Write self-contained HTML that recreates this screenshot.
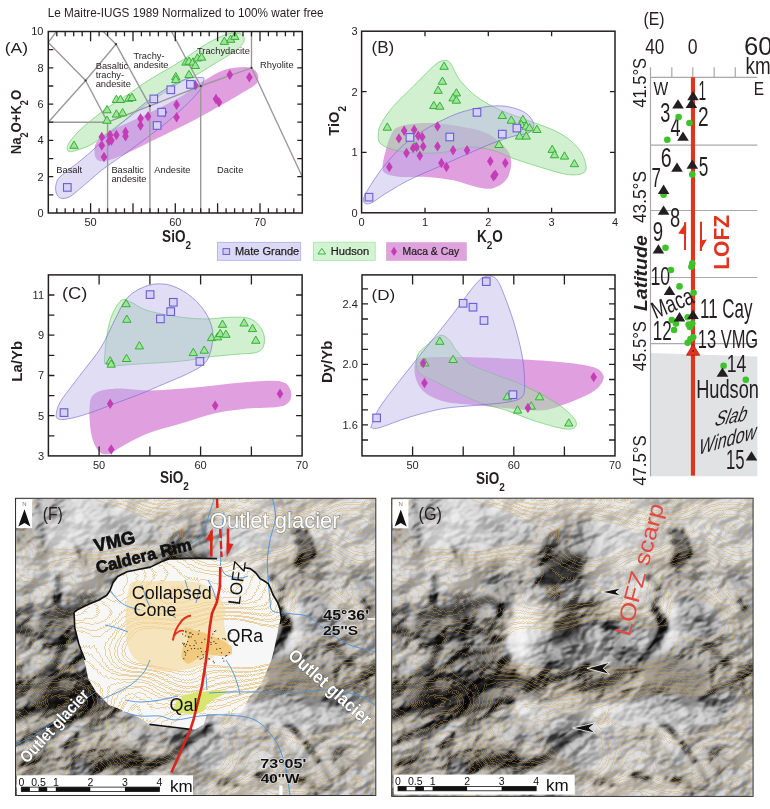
<!DOCTYPE html><html><head><meta charset="utf-8"><style>html,body{margin:0;padding:0;background:#fff;width:770px;height:809px;overflow:hidden}svg{display:block}text{font-family:"Liberation Sans",sans-serif}</style></head><body>
<svg width="770" height="809" viewBox="0 0 770 809">
<rect width="770" height="809" fill="#fff"/>
<text transform="translate(47.66,17.38) scale(0.972,1)" font-size="12.11" font-weight="normal" font-style="normal" fill="#231f20" >Le Maitre-IUGS 1989 Normalized to 100% water free</text>
<defs><clipPath id="cpA"><rect x="48.3" y="31.5" width="254.0" height="181.5"/></clipPath></defs>
<g clip-path="url(#cpA)">
<path d="M94.5,151.3 C94.5,148.0 94.5,144.1 97.9,140.4 C101.2,136.7 106.2,133.5 114.5,129.1 C122.8,124.6 136.7,119.2 147.7,113.8 C158.8,108.3 171.6,102.0 181.0,96.5 C190.4,90.9 197.0,85.0 204.2,80.5 C211.5,76.1 217.0,72.1 224.2,69.9 C231.4,67.7 242.0,66.8 247.5,67.2 C252.9,67.7 255.2,69.9 256.8,72.6 C258.3,75.2 259.4,79.6 256.8,83.2 C254.1,86.7 247.9,89.5 240.8,93.8 C233.7,98.2 222.1,104.7 214.2,109.1 C206.4,113.6 200.5,116.8 193.6,120.4 C186.7,124.0 179.6,127.3 172.7,130.7 C165.7,134.2 158.6,137.6 151.7,141.0 C144.8,144.5 138.0,148.2 131.1,151.3 C124.2,154.4 115.7,158.2 110.2,159.7 C104.6,161.2 100.5,161.7 97.9,160.3 C95.3,158.9 94.5,154.7 94.5,151.3Z" fill="#ba2cba" fill-opacity="0.45" stroke="none"/>
<path d="M67.6,150.3 C66.9,149.0 67.0,146.3 68.9,143.0 C70.9,139.8 75.1,134.9 79.2,130.7 C83.4,126.6 88.7,122.3 93.9,118.1 C99.0,113.9 104.6,109.6 110.2,105.8 C115.7,102.0 121.9,98.7 127.1,95.2 C132.3,91.7 136.3,88.3 141.4,84.9 C146.6,81.4 152.8,77.7 158.0,74.5 C163.2,71.4 167.7,69.2 172.7,66.2 C177.6,63.2 181.8,60.4 187.6,56.6 C193.4,52.8 200.9,47.1 207.6,43.3 C214.2,39.5 222.0,35.5 227.5,34.0 C233.1,32.4 238.0,32.9 240.8,34.0 C243.6,35.1 245.0,37.9 244.1,40.6 C243.3,43.4 240.8,46.7 235.8,50.6 C230.8,54.5 221.3,59.6 214.2,63.9 C207.2,68.2 198.8,73.7 193.6,76.5 C188.4,79.4 186.5,79.1 183.0,80.9 C179.5,82.6 176.4,84.8 172.7,87.2 C168.9,89.6 164.9,92.2 160.4,95.2 C155.9,98.1 150.6,101.3 145.7,104.8 C140.9,108.3 136.0,112.5 131.1,116.1 C126.2,119.7 121.4,122.9 116.5,126.4 C111.6,129.9 106.3,133.9 101.9,137.0 C97.4,140.2 94.4,143.0 89.6,145.4 C84.7,147.7 76.6,150.5 72.9,151.3 C69.3,152.2 68.3,151.7 67.6,150.3Z" fill="#a1e1a1" fill-opacity="0.5" stroke="#5cc45c" stroke-width="0.6"/>
<path d="M56.0,184.6 C56.7,181.8 56.8,180.1 60.6,176.3 C64.5,172.5 73.4,166.5 79.2,161.6 C85.1,156.8 90.7,152.2 95.9,147.4 C101.0,142.5 105.3,137.2 110.2,132.7 C115.0,128.2 119.6,124.9 124.8,120.4 C130.0,115.9 136.2,110.0 141.4,105.8 C146.6,101.6 150.8,98.7 156.0,95.2 C161.3,91.7 167.1,87.7 172.7,84.9 C178.2,82.0 184.8,79.1 189.3,77.9 C193.8,76.7 197.2,77.5 199.6,77.5 C202.0,77.5 203.4,77.0 203.9,77.9 C204.5,78.8 203.3,81.3 202.9,82.9 C202.6,84.4 203.5,84.7 201.9,87.2 C200.4,89.6 197.1,93.7 193.6,97.5 C190.1,101.3 185.9,105.3 181.0,109.8 C176.1,114.3 169.9,119.9 164.4,124.4 C158.8,129.0 153.3,132.9 147.7,137.0 C142.2,141.2 136.3,145.6 131.1,149.3 C125.9,153.1 121.4,156.2 116.5,159.7 C111.6,163.1 106.3,166.5 101.9,170.0 C97.4,173.5 93.7,177.1 89.6,180.6 C85.5,184.1 80.7,188.1 77.3,190.9 C73.8,193.7 71.7,196.0 68.9,197.2 C66.2,198.4 62.7,198.9 60.6,198.2 C58.5,197.5 57.1,195.2 56.3,192.9 C55.5,190.6 55.3,187.4 56.0,184.6Z" fill="#b5aee7" fill-opacity="0.42" stroke="#6f63cc" stroke-width="0.6"/>
</g>
<g fill="none" stroke="#9a9a9a" stroke-width="1.4" stroke-linejoin="round">
<polyline points="48.3,122.2 107.6,122.2"/>
<polyline points="107.6,213.0 107.6,122.2"/>
<polyline points="149.9,213.0 149.9,105.9"/>
<polyline points="200.7,213.0 200.7,86.0"/>
<polyline points="251.5,67.8 302.3,176.7"/>
<polyline points="107.6,122.2 149.9,105.9 200.7,86.0 251.5,67.8 251.5,31.5"/>
<polyline points="48.3,122.2 85.6,80.5 116.0,44.2 103.3,31.5"/>
<polyline points="48.3,42.4 85.6,80.5 107.6,122.2"/>
<polyline points="116.0,44.2 149.9,105.9"/>
<polyline points="171.5,31.5 200.7,86.0"/>
<polyline points="48.3,42.4 56.5,31.5"/>
</g>
<circle cx="85.6" cy="80.5" r="1.1" fill="#333"/>
<circle cx="116.0" cy="44.2" r="1.1" fill="#333"/>
<circle cx="149.9" cy="105.9" r="1.1" fill="#333"/>
<circle cx="200.7" cy="86.0" r="1.1" fill="#333"/>
<circle cx="251.5" cy="67.8" r="1.1" fill="#333"/>
<path d="M74.0,141.0L78.2,148.3L69.8,148.3Z" fill="#9ee49a" stroke="#36b036" stroke-width="1"/>
<path d="M107.0,105.5L111.2,112.8L102.8,112.8Z" fill="#9ee49a" stroke="#36b036" stroke-width="1"/>
<path d="M107.0,116.0L111.2,123.3L102.8,123.3Z" fill="#9ee49a" stroke="#36b036" stroke-width="1"/>
<path d="M116.4,95.2L120.6,102.5L112.2,102.5Z" fill="#9ee49a" stroke="#36b036" stroke-width="1"/>
<path d="M120.5,95.2L124.7,102.5L116.3,102.5Z" fill="#9ee49a" stroke="#36b036" stroke-width="1"/>
<path d="M128.8,94.0L133.0,101.3L124.6,101.3Z" fill="#9ee49a" stroke="#36b036" stroke-width="1"/>
<path d="M132.0,93.2L136.2,100.5L127.8,100.5Z" fill="#9ee49a" stroke="#36b036" stroke-width="1"/>
<path d="M116.4,109.8L120.6,117.1L112.2,117.1Z" fill="#9ee49a" stroke="#36b036" stroke-width="1"/>
<path d="M122.6,108.5L126.8,115.8L118.4,115.8Z" fill="#9ee49a" stroke="#36b036" stroke-width="1"/>
<path d="M175.8,72.4L180.0,79.7L171.6,79.7Z" fill="#9ee49a" stroke="#36b036" stroke-width="1"/>
<path d="M175.8,75.3L180.0,82.6L171.6,82.6Z" fill="#9ee49a" stroke="#36b036" stroke-width="1"/>
<path d="M186.0,57.8L190.2,65.1L181.8,65.1Z" fill="#9ee49a" stroke="#36b036" stroke-width="1"/>
<path d="M189.0,57.0L193.2,64.3L184.8,64.3Z" fill="#9ee49a" stroke="#36b036" stroke-width="1"/>
<path d="M193.0,57.8L197.2,65.1L188.8,65.1Z" fill="#9ee49a" stroke="#36b036" stroke-width="1"/>
<path d="M197.4,53.7L201.6,61.0L193.2,61.0Z" fill="#9ee49a" stroke="#36b036" stroke-width="1"/>
<path d="M201.6,52.9L205.8,60.2L197.4,60.2Z" fill="#9ee49a" stroke="#36b036" stroke-width="1"/>
<path d="M195.3,61.2L199.5,68.5L191.1,68.5Z" fill="#9ee49a" stroke="#36b036" stroke-width="1"/>
<path d="M189.0,70.3L193.2,77.6L184.8,77.6Z" fill="#9ee49a" stroke="#36b036" stroke-width="1"/>
<path d="M224.4,37.1L228.6,44.4L220.2,44.4Z" fill="#9ee49a" stroke="#36b036" stroke-width="1"/>
<path d="M230.7,35.0L234.9,42.3L226.5,42.3Z" fill="#9ee49a" stroke="#36b036" stroke-width="1"/>
<path d="M234.8,32.1L239.0,39.4L230.6,39.4Z" fill="#9ee49a" stroke="#36b036" stroke-width="1"/>
<path d="M101.8,131.8L105.1,137.0L101.8,142.2L98.5,137.0Z" fill="#c43cb6"/>
<path d="M101.8,140.3L105.1,145.5L101.8,150.7L98.5,145.5Z" fill="#c43cb6"/>
<path d="M104.0,151.8L107.3,157.0L104.0,162.2L100.7,157.0Z" fill="#c43cb6"/>
<path d="M110.0,129.8L113.3,135.0L110.0,140.2L106.7,135.0Z" fill="#c43cb6"/>
<path d="M109.0,135.8L112.3,141.0L109.0,146.2L105.7,141.0Z" fill="#c43cb6"/>
<path d="M111.4,135.3L114.7,140.5L111.4,145.7L108.1,140.5Z" fill="#c43cb6"/>
<path d="M116.4,129.8L119.7,135.0L116.4,140.2L113.1,135.0Z" fill="#c43cb6"/>
<path d="M125.5,126.8L128.8,132.0L125.5,137.2L122.2,132.0Z" fill="#c43cb6"/>
<path d="M125.5,131.1L128.8,136.3L125.5,141.5L122.2,136.3Z" fill="#c43cb6"/>
<path d="M140.5,113.3L143.8,118.5L140.5,123.7L137.2,118.5Z" fill="#c43cb6"/>
<path d="M140.5,120.3L143.8,125.5L140.5,130.7L137.2,125.5Z" fill="#c43cb6"/>
<path d="M148.0,111.2L151.3,116.4L148.0,121.6L144.7,116.4Z" fill="#c43cb6"/>
<path d="M164.0,107.0L167.3,112.2L164.0,117.4L160.7,112.2Z" fill="#c43cb6"/>
<path d="M176.6,99.5L179.9,104.7L176.6,109.9L173.3,104.7Z" fill="#c43cb6"/>
<path d="M176.6,112.0L179.9,117.2L176.6,122.4L173.3,117.2Z" fill="#c43cb6"/>
<path d="M195.3,80.0L198.6,85.2L195.3,90.4L192.0,85.2Z" fill="#c43cb6"/>
<path d="M216.0,93.8L219.3,99.0L216.0,104.2L212.7,99.0Z" fill="#c43cb6"/>
<path d="M219.0,97.0L222.3,102.2L219.0,107.4L215.7,102.2Z" fill="#c43cb6"/>
<path d="M229.8,69.6L233.1,74.8L229.8,80.0L226.5,74.8Z" fill="#c43cb6"/>
<path d="M249.4,72.1L252.7,77.3L249.4,82.5L246.1,77.3Z" fill="#c43cb6"/>
<rect x="63.5" y="183.6" width="7.6" height="7.6" fill="#d6d2f6" stroke="#6a5cd0" stroke-width="1.1"/>
<rect x="150.0" y="95.1" width="7.6" height="7.6" fill="#d6d2f6" stroke="#6a5cd0" stroke-width="1.1"/>
<rect x="167.0" y="86.0" width="7.6" height="7.6" fill="#d6d2f6" stroke="#6a5cd0" stroke-width="1.1"/>
<rect x="186.6" y="80.6" width="7.6" height="7.6" fill="#d6d2f6" stroke="#6a5cd0" stroke-width="1.1"/>
<rect x="157.9" y="108.4" width="7.6" height="7.6" fill="#d6d2f6" stroke="#6a5cd0" stroke-width="1.1"/>
<rect x="153.3" y="121.7" width="7.6" height="7.6" fill="#d6d2f6" stroke="#6a5cd0" stroke-width="1.1"/>
<text x="56.3" y="172.8" font-size="9.3" text-anchor="start" font-weight="normal" fill="#231f20" >Basalt</text>
<text x="111.4" y="172.8" font-size="9.3" text-anchor="start" font-weight="normal" fill="#231f20" >Basaltic</text>
<text x="111.4" y="182.0" font-size="9.3" text-anchor="start" font-weight="normal" fill="#231f20" >andesite</text>
<text x="154.3" y="172.8" font-size="9.3" text-anchor="start" font-weight="normal" fill="#231f20" >Andesite</text>
<text x="217.0" y="172.8" font-size="9.3" text-anchor="start" font-weight="normal" fill="#231f20" >Dacite</text>
<text x="95.7" y="68.8" font-size="9.3" text-anchor="start" font-weight="normal" fill="#231f20" >Basaltic</text>
<text x="95.7" y="77.8" font-size="9.3" text-anchor="start" font-weight="normal" fill="#231f20" >trachy-</text>
<text x="95.7" y="87.0" font-size="9.3" text-anchor="start" font-weight="normal" fill="#231f20" >andesite</text>
<text x="133.4" y="58.6" font-size="9.3" text-anchor="start" font-weight="normal" fill="#231f20" >Trachy-</text>
<text x="133.4" y="68.4" font-size="9.3" text-anchor="start" font-weight="normal" fill="#231f20" >andesite</text>
<text x="197.0" y="53.6" font-size="9.3" text-anchor="start" font-weight="normal" fill="#231f20" >Trachydacite</text>
<text x="260.0" y="67.8" font-size="9.3" text-anchor="start" font-weight="normal" fill="#231f20" >Rhyolite</text>
<rect x="48.3" y="31.5" width="254.0" height="181.5" fill="none" stroke="#231f20" stroke-width="1.5"/>
<path d="M56.8,213.0v-4.7M56.8,31.5v4.7M65.2,213.0v-4.7M65.2,31.5v4.7M73.7,213.0v-4.7M73.7,31.5v4.7M82.2,213.0v-4.7M82.2,31.5v4.7M90.6,213.0v-9.7M90.6,31.5v9.7M99.1,213.0v-4.7M99.1,31.5v4.7M107.6,213.0v-4.7M107.6,31.5v4.7M116.0,213.0v-4.7M116.0,31.5v4.7M124.5,213.0v-4.7M124.5,31.5v4.7M133.0,213.0v-9.7M133.0,31.5v9.7M141.4,213.0v-4.7M141.4,31.5v4.7M149.9,213.0v-4.7M149.9,31.5v4.7M158.4,213.0v-4.7M158.4,31.5v4.7M166.8,213.0v-4.7M166.8,31.5v4.7M175.3,213.0v-9.7M175.3,31.5v9.7M183.8,213.0v-4.7M183.8,31.5v4.7M192.2,213.0v-4.7M192.2,31.5v4.7M200.7,213.0v-4.7M200.7,31.5v4.7M209.2,213.0v-4.7M209.2,31.5v4.7M217.6,213.0v-9.7M217.6,31.5v9.7M226.1,213.0v-4.7M226.1,31.5v4.7M234.6,213.0v-4.7M234.6,31.5v4.7M243.0,213.0v-4.7M243.0,31.5v4.7M251.5,213.0v-4.7M251.5,31.5v4.7M260.0,213.0v-9.7M260.0,31.5v9.7M268.4,213.0v-4.7M268.4,31.5v4.7M276.9,213.0v-4.7M276.9,31.5v4.7M285.4,213.0v-4.7M285.4,31.5v4.7M293.8,213.0v-4.7M293.8,31.5v4.7M48.3,194.8h5.0M302.3,194.8h-5.0M48.3,176.7h5.0M302.3,176.7h-5.0M48.3,158.6h5.0M302.3,158.6h-5.0M48.3,140.4h5.0M302.3,140.4h-5.0M48.3,122.2h5.0M302.3,122.2h-5.0M48.3,104.1h5.0M302.3,104.1h-5.0M48.3,86.0h5.0M302.3,86.0h-5.0M48.3,67.8h5.0M302.3,67.8h-5.0M48.3,49.7h5.0M302.3,49.7h-5.0" stroke="#231f20" stroke-width="1.3" fill="none"/>
<text x="43.5" y="216.8" font-size="11.0" text-anchor="end" font-weight="normal" fill="#231f20" >0</text>
<text x="43.5" y="180.5" font-size="11.0" text-anchor="end" font-weight="normal" fill="#231f20" >2</text>
<text x="43.5" y="144.2" font-size="11.0" text-anchor="end" font-weight="normal" fill="#231f20" >4</text>
<text x="43.5" y="107.9" font-size="11.0" text-anchor="end" font-weight="normal" fill="#231f20" >6</text>
<text x="43.5" y="71.6" font-size="11.0" text-anchor="end" font-weight="normal" fill="#231f20" >8</text>
<text x="43.5" y="35.3" font-size="11.0" text-anchor="end" font-weight="normal" fill="#231f20" >10</text>
<text x="90.6" y="226.0" font-size="11.0" text-anchor="middle" font-weight="normal" fill="#231f20" >50</text>
<text x="175.3" y="226.0" font-size="11.0" text-anchor="middle" font-weight="normal" fill="#231f20" >60</text>
<text x="260.0" y="226.0" font-size="11.0" text-anchor="middle" font-weight="normal" fill="#231f20" >70</text>
<text transform="translate(4.75,52.84) scale(1.130,1)" font-size="15.51" font-weight="normal" font-style="normal" fill="#231f20" >(A)</text>
<text transform="translate(20.8,154.3) rotate(-90)" font-size="14.5" font-weight="bold" fill="#231f20" textLength="64.4" lengthAdjust="spacingAndGlyphs">Na<tspan font-size="10" dy="7">2</tspan><tspan dy="-7">O+K</tspan><tspan font-size="10" dy="7">2</tspan><tspan dy="-7">O</tspan></text>
<text transform="translate(162.1,241.5) scale(0.87,1)" font-size="15.6" font-weight="bold" fill="#231f20">SiO<tspan font-size="11.5" dy="7">2</tspan></text>
<defs><clipPath id="cpB"><rect x="361.6" y="31.2" width="253.4" height="181.6"/></clipPath></defs>
<g clip-path="url(#cpB)">
<path d="M382.6,167.0 C382.6,163.0 384.4,155.2 385.9,149.7 C387.4,144.1 389.3,137.6 391.6,133.7 C393.9,129.8 394.1,128.2 399.9,126.4 C405.7,124.6 416.5,123.1 426.5,123.1 C436.5,123.1 449.8,124.7 459.7,126.4 C469.7,128.1 478.6,129.3 486.3,133.1 C494.1,136.8 502.1,144.0 506.3,149.0 C510.4,154.0 511.3,157.9 511.3,163.0 C511.3,168.1 509.3,175.4 506.3,179.6 C503.2,183.8 498.0,187.0 493.0,188.2 C488.0,189.5 483.0,188.2 476.4,186.9 C469.7,185.6 461.4,181.9 453.1,180.3 C444.8,178.6 435.4,177.5 426.5,176.9 C417.6,176.4 406.7,177.5 399.9,176.9 C393.1,176.4 388.8,175.3 385.9,173.6 C383.0,172.0 382.6,171.0 382.6,167.0Z" fill="#ba2cba" fill-opacity="0.45" stroke="none"/>
<path d="M378.3,136.4 C378.3,133.2 378.1,129.7 380.6,124.7 C383.1,119.8 387.8,112.8 393.2,106.5 C398.7,100.1 406.5,93.2 413.2,86.5 C419.8,79.9 428.2,70.9 433.1,66.6 C438.1,62.2 440.2,61.1 443.1,60.6 C446.0,60.0 447.7,60.0 450.4,63.2 C453.2,66.5 455.4,74.3 459.7,79.9 C464.1,85.4 469.7,91.5 476.4,96.5 C483.0,101.5 491.3,105.9 499.6,109.8 C507.9,113.7 516.2,115.9 526.2,119.8 C536.2,123.6 550.6,128.1 559.5,133.1 C568.3,138.0 575.0,144.1 579.4,149.7 C583.8,155.2 585.6,162.3 586.1,166.3 C586.5,170.3 585.4,172.3 582.1,173.6 C578.8,174.9 573.2,175.4 566.1,174.3 C559.0,173.2 548.4,169.6 539.5,167.0 C530.7,164.3 520.7,161.1 512.9,158.3 C505.2,155.6 500.2,152.2 493.0,150.3 C485.8,148.5 478.0,146.7 469.7,147.0 C461.4,147.4 452.0,151.3 443.1,152.3 C434.2,153.3 424.8,153.4 416.5,153.0 C408.2,152.6 399.2,151.2 393.2,149.7 C387.3,148.1 383.1,145.9 380.6,143.7 C378.1,141.5 378.3,139.5 378.3,136.4Z" fill="#a1e1a1" fill-opacity="0.5" stroke="#5cc45c" stroke-width="0.6"/>
<path d="M363.3,200.2 C363.3,197.3 366.1,192.5 370.0,186.2 C373.9,180.0 379.9,170.7 386.6,163.0 C393.2,155.2 400.4,146.9 409.9,139.7 C419.3,132.5 433.1,124.7 443.1,119.8 C453.1,114.8 460.3,112.1 469.7,109.8 C479.1,107.5 490.8,105.5 499.6,105.8 C508.5,106.1 517.2,108.6 522.9,111.4 C528.6,114.3 532.4,119.6 533.5,123.1 C534.6,126.6 533.0,130.2 529.5,132.4 C526.1,134.6 519.0,134.6 512.9,136.4 C506.8,138.2 500.2,140.3 493.0,143.0 C485.8,145.8 478.6,149.1 469.7,153.0 C460.8,156.9 449.8,161.9 439.8,166.3 C429.8,170.7 418.7,175.2 409.9,179.6 C401.0,184.0 393.2,188.9 386.6,192.9 C379.9,196.9 373.9,202.3 370.0,203.5 C366.1,204.8 363.3,203.1 363.3,200.2Z" fill="#b5aee7" fill-opacity="0.42" stroke="#6f63cc" stroke-width="0.6"/>
</g>
<path d="M444.1,62.1L448.3,69.3L439.9,69.3Z" fill="#9ee49a" stroke="#36b036" stroke-width="1"/>
<path d="M442.4,77.0L446.6,84.3L438.2,84.3Z" fill="#9ee49a" stroke="#36b036" stroke-width="1"/>
<path d="M438.1,86.0L442.3,93.3L433.9,93.3Z" fill="#9ee49a" stroke="#36b036" stroke-width="1"/>
<path d="M456.4,88.7L460.6,95.9L452.2,95.9Z" fill="#9ee49a" stroke="#36b036" stroke-width="1"/>
<path d="M453.1,93.6L457.3,100.9L448.9,100.9Z" fill="#9ee49a" stroke="#36b036" stroke-width="1"/>
<path d="M456.4,96.0L460.6,103.2L452.2,103.2Z" fill="#9ee49a" stroke="#36b036" stroke-width="1"/>
<path d="M433.8,101.3L438.0,108.6L429.6,108.6Z" fill="#9ee49a" stroke="#36b036" stroke-width="1"/>
<path d="M439.8,102.0L444.0,109.2L435.6,109.2Z" fill="#9ee49a" stroke="#36b036" stroke-width="1"/>
<path d="M387.3,122.9L391.5,130.2L383.1,130.2Z" fill="#9ee49a" stroke="#36b036" stroke-width="1"/>
<path d="M502.3,111.3L506.5,118.5L498.1,118.5Z" fill="#9ee49a" stroke="#36b036" stroke-width="1"/>
<path d="M511.3,115.9L515.5,123.2L507.1,123.2Z" fill="#9ee49a" stroke="#36b036" stroke-width="1"/>
<path d="M522.9,115.3L527.1,122.5L518.7,122.5Z" fill="#9ee49a" stroke="#36b036" stroke-width="1"/>
<path d="M521.2,120.2L525.4,127.5L517.0,127.5Z" fill="#9ee49a" stroke="#36b036" stroke-width="1"/>
<path d="M526.2,121.9L530.4,129.2L522.0,129.2Z" fill="#9ee49a" stroke="#36b036" stroke-width="1"/>
<path d="M529.5,123.6L533.7,130.8L525.3,130.8Z" fill="#9ee49a" stroke="#36b036" stroke-width="1"/>
<path d="M536.9,125.2L541.1,132.5L532.7,132.5Z" fill="#9ee49a" stroke="#36b036" stroke-width="1"/>
<path d="M519.6,131.9L523.8,139.1L515.4,139.1Z" fill="#9ee49a" stroke="#36b036" stroke-width="1"/>
<path d="M526.2,131.9L530.4,139.1L522.0,139.1Z" fill="#9ee49a" stroke="#36b036" stroke-width="1"/>
<path d="M499.0,140.2L503.2,147.5L494.8,147.5Z" fill="#9ee49a" stroke="#36b036" stroke-width="1"/>
<path d="M552.2,145.2L556.4,152.4L548.0,152.4Z" fill="#9ee49a" stroke="#36b036" stroke-width="1"/>
<path d="M554.5,150.5L558.7,157.8L550.3,157.8Z" fill="#9ee49a" stroke="#36b036" stroke-width="1"/>
<path d="M564.5,151.8L568.7,159.1L560.3,159.1Z" fill="#9ee49a" stroke="#36b036" stroke-width="1"/>
<path d="M574.4,159.5L578.6,166.7L570.2,166.7Z" fill="#9ee49a" stroke="#36b036" stroke-width="1"/>
<path d="M414.9,142.5L419.1,149.8L410.7,149.8Z" fill="#9ee49a" stroke="#36b036" stroke-width="1"/>
<path d="M398.9,133.2L402.2,138.4L398.9,143.6L395.6,138.4Z" fill="#c43cb6"/>
<path d="M404.2,125.5L407.5,130.7L404.2,135.9L400.9,130.7Z" fill="#c43cb6"/>
<path d="M414.2,124.5L417.5,129.7L414.2,134.9L410.9,129.7Z" fill="#c43cb6"/>
<path d="M418.2,130.5L421.5,135.7L418.2,140.9L414.9,135.7Z" fill="#c43cb6"/>
<path d="M422.2,131.8L425.5,137.0L422.2,142.2L418.9,137.0Z" fill="#c43cb6"/>
<path d="M423.2,141.2L426.5,146.4L423.2,151.6L419.9,146.4Z" fill="#c43cb6"/>
<path d="M413.2,142.8L416.5,148.0L413.2,153.2L409.9,148.0Z" fill="#c43cb6"/>
<path d="M416.5,141.8L419.8,147.0L416.5,152.2L413.2,147.0Z" fill="#c43cb6"/>
<path d="M406.5,147.8L409.8,153.0L406.5,158.2L403.2,153.0Z" fill="#c43cb6"/>
<path d="M419.8,150.5L423.1,155.7L419.8,160.9L416.5,155.7Z" fill="#c43cb6"/>
<path d="M437.5,121.2L440.8,126.4L437.5,131.6L434.2,126.4Z" fill="#c43cb6"/>
<path d="M437.5,141.2L440.8,146.4L437.5,151.6L434.2,146.4Z" fill="#c43cb6"/>
<path d="M453.1,145.1L456.4,150.3L453.1,155.5L449.8,150.3Z" fill="#c43cb6"/>
<path d="M467.0,145.1L470.3,150.3L467.0,155.5L463.7,150.3Z" fill="#c43cb6"/>
<path d="M441.4,157.8L444.7,163.0L441.4,168.2L438.1,163.0Z" fill="#c43cb6"/>
<path d="M446.4,161.8L449.7,167.0L446.4,172.2L443.1,167.0Z" fill="#c43cb6"/>
<path d="M389.3,161.8L392.6,167.0L389.3,172.2L386.0,167.0Z" fill="#c43cb6"/>
<path d="M490.3,156.1L493.6,161.3L490.3,166.5L487.0,161.3Z" fill="#c43cb6"/>
<path d="M505.3,157.8L508.6,163.0L505.3,168.2L502.0,163.0Z" fill="#c43cb6"/>
<path d="M493.6,171.1L496.9,176.3L493.6,181.5L490.3,176.3Z" fill="#c43cb6"/>
<path d="M495.3,169.4L498.6,174.6L495.3,179.8L492.0,174.6Z" fill="#c43cb6"/>
<rect x="365.2" y="193.4" width="7.6" height="7.6" fill="#d6d2f6" stroke="#6a5cd0" stroke-width="1.1"/>
<rect x="406.1" y="133.6" width="7.6" height="7.6" fill="#d6d2f6" stroke="#6a5cd0" stroke-width="1.1"/>
<rect x="446.0" y="133.2" width="7.6" height="7.6" fill="#d6d2f6" stroke="#6a5cd0" stroke-width="1.1"/>
<rect x="473.2" y="108.6" width="7.6" height="7.6" fill="#d6d2f6" stroke="#6a5cd0" stroke-width="1.1"/>
<rect x="498.5" y="130.3" width="7.6" height="7.6" fill="#d6d2f6" stroke="#6a5cd0" stroke-width="1.1"/>
<rect x="513.1" y="124.3" width="7.6" height="7.6" fill="#d6d2f6" stroke="#6a5cd0" stroke-width="1.1"/>
<rect x="361.6" y="31.2" width="253.4" height="181.6" fill="none" stroke="#231f20" stroke-width="1.5"/>
<path d="M425.0,212.8v-5M425.0,31.2v5M488.3,212.8v-5M488.3,31.2v5M551.6,212.8v-5M551.6,31.2v5M361.6,152.3h5M615.0,152.3h-5M361.6,91.7h5M615.0,91.7h-5" stroke="#231f20" stroke-width="1.3" fill="none"/>
<text x="357.5" y="216.6" font-size="11.0" text-anchor="end" font-weight="normal" fill="#231f20" >0</text>
<text x="357.5" y="156.1" font-size="11.0" text-anchor="end" font-weight="normal" fill="#231f20" >1</text>
<text x="357.5" y="95.5" font-size="11.0" text-anchor="end" font-weight="normal" fill="#231f20" >2</text>
<text x="357.5" y="35.0" font-size="11.0" text-anchor="end" font-weight="normal" fill="#231f20" >3</text>
<text x="361.6" y="226.0" font-size="11.0" text-anchor="middle" font-weight="normal" fill="#231f20" >0</text>
<text x="425.0" y="226.0" font-size="11.0" text-anchor="middle" font-weight="normal" fill="#231f20" >1</text>
<text x="488.3" y="226.0" font-size="11.0" text-anchor="middle" font-weight="normal" fill="#231f20" >2</text>
<text x="551.6" y="226.0" font-size="11.0" text-anchor="middle" font-weight="normal" fill="#231f20" >3</text>
<text x="615.0" y="226.0" font-size="11.0" text-anchor="middle" font-weight="normal" fill="#231f20" >4</text>
<text transform="translate(371.58,53.23) scale(1.061,1)" font-size="16.04" font-weight="normal" font-style="normal" fill="#231f20" >(B)</text>
<text transform="translate(339.3,135.8) rotate(-90)" font-size="14.7" font-weight="bold" fill="#231f20">TiO<tspan font-size="10" dy="7">2</tspan></text>
<text transform="translate(477,241.5) scale(0.87,1)" font-size="15.6" font-weight="bold" fill="#231f20">K<tspan font-size="11.5" dy="7">2</tspan><tspan dy="-7">O</tspan></text>
<rect x="217.4" y="242.3" width="83.3" height="18" fill="#dcd9f7" stroke="#b0a8ea" stroke-width="0.8"/>
<rect x="223" y="248.6" width="6.6" height="5.8" fill="#cfcaf3" stroke="#6a5cd0" stroke-width="1"/>
<text transform="translate(234.92,254.79)" font-size="11.02" font-weight="normal" font-style="normal" fill="#231f20" stroke="#231f20" stroke-width="0.25">Mate Grande</text>
<rect x="313.5" y="242.2" width="61.7" height="18.2" fill="#d2f4d2" stroke="#a6e4a6" stroke-width="0.8"/>
<path d="M321.8,248.3L325.6,254L318,254Z" fill="none" stroke="#3cb43c" stroke-width="1"/>
<text transform="translate(330.71,255.19) scale(0.976,1)" font-size="11.43" font-weight="normal" font-style="normal" fill="#231f20" stroke="#231f20" stroke-width="0.25">Hudson</text>
<rect x="386.1" y="242.2" width="80.7" height="18.6" fill="#dea3dc"/>
<path d="M394.0,246.7L397.0,251.4L394.0,256.1L391.0,251.4Z" fill="#c43cb6"/>
<text transform="translate(402.57,254.90) scale(0.910,1)" font-size="11.43" font-weight="normal" font-style="normal" fill="#231f20" stroke="#231f20" stroke-width="0.25">Maca &amp; Cay</text>
<defs><clipPath id="cpC"><rect x="48.4" y="274.9" width="253.7" height="181.0"/></clipPath></defs>
<g clip-path="url(#cpC)">
<path d="M89.6,407.0 C90.1,400.3 90.4,396.7 94.5,393.7 C98.7,390.6 105.6,389.2 114.5,388.7 C123.4,388.1 136.7,390.4 147.7,390.4 C158.8,390.4 169.9,389.5 181.0,388.7 C192.1,387.9 203.1,386.5 214.2,385.4 C225.3,384.3 236.4,382.7 247.5,382.0 C258.5,381.4 273.5,380.0 280.7,381.4 C287.9,382.8 289.3,386.9 290.7,390.4 C292.1,393.8 291.2,399.2 289.0,402.0 C286.8,404.8 284.3,405.9 277.4,407.0 C270.5,408.1 258.0,407.5 247.5,408.6 C236.9,409.7 225.3,411.1 214.2,413.6 C203.1,416.1 192.1,420.3 181.0,423.6 C169.9,426.9 157.7,429.7 147.7,433.6 C137.8,437.5 127.8,443.4 121.1,446.9 C114.5,450.3 111.7,453.6 107.8,454.2 C104.0,454.7 100.6,453.6 97.9,450.2 C95.1,446.8 92.6,440.8 91.2,433.6 C89.8,426.4 89.0,413.6 89.6,407.0Z" fill="#ba2cba" fill-opacity="0.45" stroke="none"/>
<path d="M104.5,361.1 C104.5,357.1 105.1,347.8 106.2,340.5 C107.3,333.2 108.7,323.9 111.2,317.2 C113.7,310.6 117.8,303.1 121.1,300.6 C124.5,298.1 126.7,300.6 131.1,302.3 C135.5,303.9 139.4,308.1 147.7,310.6 C156.0,313.1 171.0,315.8 181.0,317.2 C191.0,318.6 199.3,318.9 207.6,318.9 C215.9,318.9 223.6,317.2 230.8,317.2 C238.0,317.2 245.5,316.7 250.8,318.9 C256.1,321.1 260.2,326.4 262.4,330.5 C264.6,334.7 264.9,340.2 264.1,343.8 C263.3,347.4 262.4,350.4 257.4,352.1 C252.5,353.9 242.5,353.6 234.2,354.5 C225.9,355.3 215.3,356.1 207.6,357.1 C199.8,358.1 194.8,359.5 187.6,360.4 C180.4,361.3 172.1,361.9 164.4,362.4 C156.6,363.0 149.4,363.2 141.1,363.8 C132.8,364.3 120.3,365.6 114.5,365.8 C108.7,365.9 107.8,365.2 106.2,364.4 C104.5,363.6 104.5,365.1 104.5,361.1Z" fill="#a1e1a1" fill-opacity="0.5" stroke="#5cc45c" stroke-width="0.6"/>
<path d="M56.3,413.6 C56.9,410.5 57.1,407.0 61.3,400.3 C65.5,393.7 74.6,382.6 81.2,373.7 C87.9,364.9 95.7,356.0 101.2,347.1 C106.7,338.3 110.1,328.9 114.5,320.5 C118.9,312.2 122.2,303.1 127.8,297.3 C133.3,291.5 141.1,287.7 147.7,285.6 C154.4,283.5 161.0,283.3 167.7,284.6 C174.3,286.0 181.5,289.6 187.6,293.9 C193.7,298.3 200.1,304.5 204.2,310.6 C208.4,316.7 211.5,323.9 212.6,330.5 C213.7,337.2 212.3,344.9 210.9,350.5 C209.5,356.0 208.1,359.9 204.2,363.8 C200.4,367.6 194.3,370.4 187.6,373.7 C181.0,377.1 172.1,380.4 164.4,383.7 C156.6,387.0 149.4,390.4 141.1,393.7 C132.8,397.0 123.4,400.3 114.5,403.7 C105.6,407.0 95.7,411.1 87.9,413.6 C80.1,416.2 72.9,418.1 67.9,418.9 C63.0,419.8 59.9,419.8 58.0,418.9 C56.0,418.1 55.8,416.7 56.3,413.6Z" fill="#b5aee7" fill-opacity="0.42" stroke="#6f63cc" stroke-width="0.6"/>
</g>
<path d="M126.1,299.4L130.3,306.7L121.9,306.7Z" fill="#9ee49a" stroke="#36b036" stroke-width="1"/>
<path d="M126.8,315.0L131.0,322.3L122.6,322.3Z" fill="#9ee49a" stroke="#36b036" stroke-width="1"/>
<path d="M139.4,341.6L143.6,348.9L135.2,348.9Z" fill="#9ee49a" stroke="#36b036" stroke-width="1"/>
<path d="M126.5,354.3L130.7,361.5L122.3,361.5Z" fill="#9ee49a" stroke="#36b036" stroke-width="1"/>
<path d="M110.2,356.6L114.4,363.9L106.0,363.9Z" fill="#9ee49a" stroke="#36b036" stroke-width="1"/>
<path d="M111.2,359.9L115.4,367.2L107.0,367.2Z" fill="#9ee49a" stroke="#36b036" stroke-width="1"/>
<path d="M193.3,348.3L197.5,355.6L189.1,355.6Z" fill="#9ee49a" stroke="#36b036" stroke-width="1"/>
<path d="M204.2,346.0L208.4,353.2L200.1,353.2Z" fill="#9ee49a" stroke="#36b036" stroke-width="1"/>
<path d="M211.6,333.3L215.8,340.6L207.4,340.6Z" fill="#9ee49a" stroke="#36b036" stroke-width="1"/>
<path d="M217.5,332.7L221.7,339.9L213.3,339.9Z" fill="#9ee49a" stroke="#36b036" stroke-width="1"/>
<path d="M220.2,329.3L224.4,336.6L216.0,336.6Z" fill="#9ee49a" stroke="#36b036" stroke-width="1"/>
<path d="M225.9,330.0L230.1,337.3L221.7,337.3Z" fill="#9ee49a" stroke="#36b036" stroke-width="1"/>
<path d="M222.5,320.0L226.7,327.3L218.3,327.3Z" fill="#9ee49a" stroke="#36b036" stroke-width="1"/>
<path d="M244.1,318.7L248.3,326.0L239.9,326.0Z" fill="#9ee49a" stroke="#36b036" stroke-width="1"/>
<path d="M252.5,324.3L256.7,331.6L248.3,331.6Z" fill="#9ee49a" stroke="#36b036" stroke-width="1"/>
<path d="M255.8,336.0L260.0,343.3L251.6,343.3Z" fill="#9ee49a" stroke="#36b036" stroke-width="1"/>
<path d="M110.2,398.5L113.5,403.7L110.2,408.9L106.9,403.7Z" fill="#c43cb6"/>
<path d="M111.2,444.3L114.5,449.5L111.2,454.7L107.9,449.5Z" fill="#c43cb6"/>
<path d="M215.2,400.4L218.5,405.6L215.2,410.8L211.9,405.6Z" fill="#c43cb6"/>
<path d="M280.0,388.5L283.3,393.7L280.0,398.9L276.7,393.7Z" fill="#c43cb6"/>
<rect x="146.3" y="290.8" width="7.6" height="7.6" fill="#d6d2f6" stroke="#6a5cd0" stroke-width="1.1"/>
<rect x="169.5" y="298.5" width="7.6" height="7.6" fill="#d6d2f6" stroke="#6a5cd0" stroke-width="1.1"/>
<rect x="166.9" y="307.8" width="7.6" height="7.6" fill="#d6d2f6" stroke="#6a5cd0" stroke-width="1.1"/>
<rect x="156.6" y="315.1" width="7.6" height="7.6" fill="#d6d2f6" stroke="#6a5cd0" stroke-width="1.1"/>
<rect x="196.1" y="357.6" width="7.6" height="7.6" fill="#d6d2f6" stroke="#6a5cd0" stroke-width="1.1"/>
<rect x="60.2" y="408.8" width="7.6" height="7.6" fill="#d6d2f6" stroke="#6a5cd0" stroke-width="1.1"/>
<rect x="48.4" y="274.9" width="253.7" height="181.0" fill="none" stroke="#231f20" stroke-width="1.5"/>
<path d="M99.1,455.9v-9.5M99.1,274.9v9.5M149.9,455.9v-9.5M149.9,274.9v9.5M200.6,455.9v-9.5M200.6,274.9v9.5M251.4,455.9v-9.5M251.4,274.9v9.5M48.4,435.8h6M302.1,435.8h-6M48.4,415.7h6M302.1,415.7h-6M48.4,395.6h6M302.1,395.6h-6M48.4,375.5h6M302.1,375.5h-6M48.4,355.3h6M302.1,355.3h-6M48.4,335.2h6M302.1,335.2h-6M48.4,315.1h6M302.1,315.1h-6M48.4,295.0h6M302.1,295.0h-6" stroke="#231f20" stroke-width="1.3" fill="none"/>
<text x="44.0" y="459.7" font-size="11.0" text-anchor="end" font-weight="normal" fill="#231f20" >3</text>
<text x="44.0" y="419.5" font-size="11.0" text-anchor="end" font-weight="normal" fill="#231f20" >5</text>
<text x="44.0" y="379.3" font-size="11.0" text-anchor="end" font-weight="normal" fill="#231f20" >7</text>
<text x="44.0" y="339.0" font-size="11.0" text-anchor="end" font-weight="normal" fill="#231f20" >9</text>
<text x="44.0" y="298.8" font-size="11.0" text-anchor="end" font-weight="normal" fill="#231f20" >11</text>
<text x="99.1" y="469.0" font-size="11.0" text-anchor="middle" font-weight="normal" fill="#231f20" >50</text>
<text x="200.6" y="469.0" font-size="11.0" text-anchor="middle" font-weight="normal" fill="#231f20" >60</text>
<text x="302.1" y="469.0" font-size="11.0" text-anchor="middle" font-weight="normal" fill="#231f20" >70</text>
<text transform="translate(61.90,298.93) scale(1.143,1)" font-size="16.04" font-weight="normal" font-style="normal" fill="#231f20" >(C)</text>
<text transform="translate(21.6,381.7) rotate(-90)" font-size="15" font-weight="bold" fill="#231f20">La/Yb</text>
<text transform="translate(160,482.7) scale(0.87,1)" font-size="15.6" font-weight="bold" fill="#231f20">SiO<tspan font-size="11.5" dy="7">2</tspan></text>
<defs><clipPath id="cpD"><rect x="362.0" y="274.9" width="253.0" height="181.0"/></clipPath></defs>
<g clip-path="url(#cpD)">
<path d="M414.9,363.8 C416.0,360.0 415.7,358.9 423.2,357.8 C430.6,356.7 445.3,356.9 459.7,357.1 C474.1,357.3 493.0,357.9 509.6,358.8 C526.2,359.6 545.6,360.7 559.5,362.1 C573.3,363.5 585.4,364.9 592.7,367.1 C600.0,369.3 602.1,372.3 603.4,375.4 C604.6,378.4 602.4,382.3 600.0,385.4 C597.7,388.4 595.0,390.6 589.4,393.7 C583.7,396.7 573.9,400.9 566.1,403.7 C558.4,406.4 552.3,409.5 542.8,410.3 C533.4,411.1 520.7,409.5 509.6,408.6 C498.5,407.8 486.9,406.4 476.4,405.3 C465.8,404.2 454.7,403.9 446.4,402.0 C438.1,400.1 431.5,397.3 426.5,393.7 C421.5,390.1 418.5,385.4 416.5,380.4 C414.6,375.4 413.7,367.5 414.9,363.8Z" fill="#ba2cba" fill-opacity="0.45" stroke="none"/>
<path d="M416.5,363.8 C416.2,360.4 416.5,356.8 418.2,353.8 C419.8,350.7 423.4,348.2 426.5,345.5 C429.5,342.7 433.7,338.8 436.5,337.2 C439.2,335.5 440.9,334.9 443.1,335.5 C445.3,336.1 447.5,338.0 449.8,340.5 C452.0,343.0 453.1,346.6 456.4,350.5 C459.7,354.3 463.6,359.9 469.7,363.8 C475.8,367.6 484.7,370.4 493.0,373.7 C501.3,377.1 510.7,379.8 519.6,383.7 C528.4,387.6 538.4,392.6 546.2,397.0 C553.9,401.4 561.1,406.1 566.1,410.3 C571.1,414.5 575.0,418.9 576.1,421.9 C577.2,425.0 575.5,427.6 572.8,428.6 C570.0,429.6 566.1,429.3 559.5,427.9 C552.8,426.5 541.7,423.2 532.9,420.3 C524.0,417.3 514.6,413.1 506.3,410.3 C498.0,407.5 490.8,406.4 483.0,403.7 C475.2,400.9 468.0,397.6 459.7,393.7 C451.4,389.8 439.8,383.7 433.1,380.4 C426.5,377.1 422.6,376.5 419.8,373.7 C417.1,371.0 416.8,367.1 416.5,363.8Z" fill="#a1e1a1" fill-opacity="0.5" stroke="#5cc45c" stroke-width="0.6"/>
<path d="M371.6,425.3 C373.0,421.8 375.2,414.5 379.9,407.0 C384.7,399.5 392.1,390.4 399.9,380.4 C407.7,370.4 417.6,358.2 426.5,347.1 C435.4,336.1 445.3,323.9 453.1,313.9 C460.8,303.9 467.8,293.5 473.0,287.3 C478.3,281.1 480.8,278.0 484.7,276.7 C488.5,275.3 492.7,275.0 496.3,279.0 C499.9,283.0 503.0,292.0 506.3,300.6 C509.6,309.2 513.5,320.5 516.2,330.5 C519.0,340.5 521.5,351.0 522.9,360.4 C524.3,369.9 524.8,380.8 524.6,387.0 C524.3,393.2 524.3,395.1 521.2,397.7 C518.2,400.2 513.8,401.1 506.3,402.3 C498.8,403.6 486.9,404.3 476.4,405.3 C465.8,406.4 454.2,406.7 443.1,408.6 C432.0,410.6 420.4,413.8 409.9,417.0 C399.3,420.1 386.3,425.8 379.9,427.6 C373.6,429.4 373.0,428.0 371.6,427.6 C370.3,427.2 370.3,428.7 371.6,425.3Z" fill="#b5aee7" fill-opacity="0.42" stroke="#6f63cc" stroke-width="0.6"/>
</g>
<path d="M439.8,337.0L444.0,344.3L435.6,344.3Z" fill="#9ee49a" stroke="#36b036" stroke-width="1"/>
<path d="M453.1,355.3L457.3,362.5L448.9,362.5Z" fill="#9ee49a" stroke="#36b036" stroke-width="1"/>
<path d="M424.8,358.6L429.0,365.9L420.6,365.9Z" fill="#9ee49a" stroke="#36b036" stroke-width="1"/>
<path d="M507.3,392.5L511.5,399.8L503.1,399.8Z" fill="#9ee49a" stroke="#36b036" stroke-width="1"/>
<path d="M517.6,405.8L521.8,413.1L513.4,413.1Z" fill="#9ee49a" stroke="#36b036" stroke-width="1"/>
<path d="M531.2,401.8L535.4,409.1L527.0,409.1Z" fill="#9ee49a" stroke="#36b036" stroke-width="1"/>
<path d="M539.5,392.5L543.7,399.8L535.3,399.8Z" fill="#9ee49a" stroke="#36b036" stroke-width="1"/>
<path d="M568.8,418.8L573.0,426.0L564.6,426.0Z" fill="#9ee49a" stroke="#36b036" stroke-width="1"/>
<path d="M423.2,357.9L426.5,363.1L423.2,368.3L419.9,363.1Z" fill="#c43cb6"/>
<path d="M424.5,377.8L427.8,383.0L424.5,388.2L421.2,383.0Z" fill="#c43cb6"/>
<path d="M527.9,402.8L531.2,408.0L527.9,413.2L524.6,408.0Z" fill="#c43cb6"/>
<path d="M593.7,371.9L597.0,377.1L593.7,382.3L590.4,377.1Z" fill="#c43cb6"/>
<rect x="482.5" y="277.8" width="7.6" height="7.6" fill="#d6d2f6" stroke="#6a5cd0" stroke-width="1.1"/>
<rect x="459.3" y="299.5" width="7.6" height="7.6" fill="#d6d2f6" stroke="#6a5cd0" stroke-width="1.1"/>
<rect x="469.2" y="303.4" width="7.6" height="7.6" fill="#d6d2f6" stroke="#6a5cd0" stroke-width="1.1"/>
<rect x="480.2" y="316.7" width="7.6" height="7.6" fill="#d6d2f6" stroke="#6a5cd0" stroke-width="1.1"/>
<rect x="509.1" y="390.9" width="7.6" height="7.6" fill="#d6d2f6" stroke="#6a5cd0" stroke-width="1.1"/>
<rect x="372.8" y="414.1" width="7.6" height="7.6" fill="#d6d2f6" stroke="#6a5cd0" stroke-width="1.1"/>
<rect x="362.0" y="274.9" width="253.0" height="181.0" fill="none" stroke="#231f20" stroke-width="1.5"/>
<path d="M412.6,455.9v-9.5M412.6,274.9v9.5M463.2,455.9v-9.5M463.2,274.9v9.5M513.8,455.9v-9.5M513.8,274.9v9.5M564.4,455.9v-9.5M564.4,274.9v9.5M362.0,440.0h6M615.0,440.0h-6M362.0,424.9h6M615.0,424.9h-6M362.0,409.8h6M615.0,409.8h-6M362.0,394.6h6M615.0,394.6h-6M362.0,379.5h6M615.0,379.5h-6M362.0,364.4h6M615.0,364.4h-6M362.0,349.3h6M615.0,349.3h-6M362.0,334.2h6M615.0,334.2h-6M362.0,319.0h6M615.0,319.0h-6M362.0,303.9h6M615.0,303.9h-6M362.0,288.8h6M615.0,288.8h-6" stroke="#231f20" stroke-width="1.3" fill="none"/>
<text x="357.8" y="307.7" font-size="11.0" text-anchor="end" font-weight="normal" fill="#231f20" >2.4</text>
<text x="357.8" y="368.2" font-size="11.0" text-anchor="end" font-weight="normal" fill="#231f20" >2.0</text>
<text x="357.8" y="428.7" font-size="11.0" text-anchor="end" font-weight="normal" fill="#231f20" >1.6</text>
<text x="412.6" y="469.0" font-size="11.0" text-anchor="middle" font-weight="normal" fill="#231f20" >50</text>
<text x="513.8" y="469.0" font-size="11.0" text-anchor="middle" font-weight="normal" fill="#231f20" >60</text>
<text x="615.0" y="469.0" font-size="11.0" text-anchor="middle" font-weight="normal" fill="#231f20" >70</text>
<text transform="translate(371.58,300.09) scale(1.116,1)" font-size="15.29" font-weight="normal" font-style="normal" fill="#231f20" >(D)</text>
<text transform="translate(331.7,383.1) rotate(-90)" font-size="15" font-weight="bold" fill="#231f20">Dy/Yb</text>
<text transform="translate(476,483.5) scale(0.87,1)" font-size="15.6" font-weight="bold" fill="#231f20">SiO<tspan font-size="11.5" dy="7">2</tspan></text>
<path d="M650.5,353L757.3,356.5L757.3,476.2L650.5,476.2Z" fill="#e1e2e3"/>
<path d="M650.5,77.3H757.3M650.5,145.1H757.3M650.5,210.5H757.3M650.5,277.5H757.3M650.5,343.6H757.3M650.5,67.3V476.2M671.8,67.3V77.3M692.8,67.3V77.3M714.2,67.3V77.3M735.3,67.3V77.3" stroke="#a7a9ac" stroke-width="1.2" fill="none"/>
<rect x="690.9" y="77.3" width="4.1" height="398.3" fill="#e2331f"/>
<text transform="translate(643.55,24.52) scale(0.900,1)" font-size="17.54" font-weight="normal" font-style="normal" fill="#231f20" >(E)</text>
<text transform="translate(645.16,54.28) scale(0.786,1)" font-size="21.83" font-weight="normal" font-style="normal" fill="#231f20" >40</text>
<text transform="translate(687.79,54.28) scale(0.811,1)" font-size="21.83" font-weight="normal" font-style="normal" fill="#231f20" >0</text>
<text transform="translate(743.92,54.85) scale(1.006,1)" font-size="25.49" font-weight="normal" font-style="normal" fill="#231f20" >60</text>
<text transform="translate(745.58,74.10) scale(0.818,1)" font-size="23.03" font-weight="normal" font-style="normal" fill="#231f20" >km</text>
<text transform="translate(653.52,94.80) scale(0.816,1)" font-size="19.13" font-weight="normal" font-style="normal" fill="#231f20" >W</text>
<text transform="translate(753.87,95.00) scale(0.806,1)" font-size="19.13" font-weight="normal" font-style="normal" fill="#231f20" >E</text>
<text transform="translate(698.47,100.30) scale(0.509,1)" font-size="27.10" font-weight="normal" font-style="normal" fill="#231f20" >1</text>
<text transform="translate(698.04,125.70) scale(0.686,1)" font-size="27.86" font-weight="normal" font-style="normal" fill="#231f20" >2</text>
<text transform="translate(660.18,122.23) scale(0.677,1)" font-size="26.76" font-weight="normal" font-style="normal" fill="#231f20" >3</text>
<text transform="translate(670.54,135.70) scale(0.638,1)" font-size="28.26" font-weight="normal" font-style="normal" fill="#231f20" >4</text>
<text transform="translate(660.82,167.22) scale(0.695,1)" font-size="28.17" font-weight="normal" font-style="normal" fill="#231f20" >6</text>
<text transform="translate(698.81,175.92) scale(0.617,1)" font-size="28.00" font-weight="normal" font-style="normal" fill="#231f20" >5</text>
<text transform="translate(651.45,187.10) scale(0.628,1)" font-size="26.96" font-weight="normal" font-style="normal" fill="#231f20" >7</text>
<text transform="translate(670.08,227.03) scale(0.673,1)" font-size="27.18" font-weight="normal" font-style="normal" fill="#231f20" >8</text>
<text transform="translate(652.76,241.13) scale(0.695,1)" font-size="26.90" font-weight="normal" font-style="normal" fill="#231f20" >9</text>
<text transform="translate(650.47,285.24) scale(0.672,1)" font-size="26.34" font-weight="normal" font-style="normal" fill="#231f20" >10</text>
<text transform="translate(700.03,318.45) scale(0.630,1)" font-size="26.92" font-weight="normal" font-style="normal" fill="#231f20" >11 Cay</text>
<text transform="translate(652.82,339.50) scale(0.612,1)" font-size="27.86" font-weight="normal" font-style="normal" fill="#231f20" >12</text>
<text transform="translate(697.87,348.35) scale(0.656,1)" font-size="25.07" font-weight="normal" font-style="normal" fill="#231f20" >13 VMG</text>
<text transform="translate(726.67,372.30) scale(0.719,1)" font-size="24.64" font-weight="normal" font-style="normal" fill="#231f20" >14</text>
<text transform="translate(696.14,398.04) scale(0.694,1)" font-size="26.26" font-weight="normal" font-style="normal" fill="#231f20" >Hudson</text>
<text transform="translate(726.04,468.73) scale(0.618,1)" font-size="27.14" font-weight="normal" font-style="normal" fill="#231f20" >15</text>
<text transform="translate(646.30,107.83) rotate(-90.00) scale(0.867,1)" font-size="19.14" font-weight="normal" font-style="normal" fill="#231f20" >41.5°S</text>
<text transform="translate(646.30,223.05) rotate(-90.00) scale(0.903,1)" font-size="19.14" font-weight="normal" font-style="normal" fill="#231f20" >43.5°S</text>
<text transform="translate(646.30,371.33) rotate(-90.00) scale(0.873,1)" font-size="19.14" font-weight="normal" font-style="normal" fill="#231f20" >45.5°S</text>
<text transform="translate(646.30,485.84) rotate(-90.00) scale(0.878,1)" font-size="19.14" font-weight="normal" font-style="normal" fill="#231f20" >47.5°S</text>
<text transform="translate(647.30,311.09) rotate(-90.00) scale(1.027,1)" font-size="19.03" font-weight="bold" font-style="italic" fill="#231f20" >Latitude</text>
<text transform="translate(728.60,269.66) rotate(-90.00) scale(0.921,1)" font-size="22.71" font-weight="bold" font-style="normal" fill="#e2331f" >LOFZ</text>
<text transform="translate(655.49,319.15) rotate(-22.84) scale(0.729,1)" font-size="24.35" font-weight="normal" font-style="normal" fill="#231f20" >Maca</text>
<text transform="translate(713.6,426.3) rotate(-10) skewX(-30) scale(0.8,1)" font-size="20" fill="#231f20">Slab</text>
<text transform="translate(697.8,455) rotate(-16) skewX(-28) scale(0.82,1)" font-size="20.5" fill="#231f20">Window</text>
<path d="M685,222.3L685,250" stroke="#e2331f" stroke-width="2"/><path d="M686.2,221.8L686.2,234.5L678.2,233.6Z" fill="#e2331f"/>
<path d="M701,221.8L701,251" stroke="#e2331f" stroke-width="2"/><path d="M699.9,251.4L699.9,240.5L706.8,239.5Z" fill="#e2331f"/>
<circle cx="678.6" cy="117.1" r="3.3" fill="#3ec22a"/>
<circle cx="689.5" cy="123.0" r="3.3" fill="#3ec22a"/>
<circle cx="667.3" cy="139.8" r="3.3" fill="#3ec22a"/>
<circle cx="692.3" cy="174.4" r="3.3" fill="#3ec22a"/>
<circle cx="663.6" cy="194.8" r="3.3" fill="#3ec22a"/>
<circle cx="665.5" cy="247.7" r="3.3" fill="#3ec22a"/>
<circle cx="692.3" cy="263.2" r="3.3" fill="#3ec22a"/>
<circle cx="691.4" cy="266.8" r="3.3" fill="#3ec22a"/>
<circle cx="670.9" cy="270.0" r="3.3" fill="#3ec22a"/>
<circle cx="679.5" cy="286.4" r="3.3" fill="#3ec22a"/>
<circle cx="693.6" cy="292.7" r="3.3" fill="#3ec22a"/>
<circle cx="671.8" cy="320.0" r="3.3" fill="#3ec22a"/>
<circle cx="675.9" cy="323.6" r="3.3" fill="#3ec22a"/>
<circle cx="674.1" cy="330.0" r="3.3" fill="#3ec22a"/>
<circle cx="687.7" cy="317.3" r="3.3" fill="#3ec22a"/>
<circle cx="688.6" cy="324.5" r="3.3" fill="#3ec22a"/>
<circle cx="692.3" cy="323.6" r="3.3" fill="#3ec22a"/>
<circle cx="687.7" cy="342.7" r="3.3" fill="#3ec22a"/>
<circle cx="690.5" cy="339.0" r="3.3" fill="#3ec22a"/>
<circle cx="693.2" cy="337.3" r="3.3" fill="#3ec22a"/>
<circle cx="723.6" cy="365.7" r="3.3" fill="#3ec22a"/>
<circle cx="745.8" cy="379.8" r="3.3" fill="#3ec22a"/>
<circle cx="690.0" cy="327.0" r="3.3" fill="#3ec22a"/>
<path d="M693.0,91.0L698.8,100.3L687.2,100.3Z" fill="#231f20"/>
<path d="M691.4,98.7L697.2,108.0L685.6,108.0Z" fill="#231f20"/>
<path d="M678.0,99.2L683.8,108.5L672.2,108.5Z" fill="#231f20"/>
<path d="M683.0,131.4L688.8,140.7L677.2,140.7Z" fill="#231f20"/>
<path d="M677.0,162.5L682.8,171.8L671.2,171.8Z" fill="#231f20"/>
<path d="M692.3,159.4L698.1,168.7L686.5,168.7Z" fill="#231f20"/>
<path d="M663.6,184.6L669.4,193.9L657.8,193.9Z" fill="#231f20"/>
<path d="M663.6,205.5L669.4,214.8L657.8,214.8Z" fill="#231f20"/>
<path d="M658.4,244.3L664.2,253.6L652.6,253.6Z" fill="#231f20"/>
<path d="M669.5,285.7L675.3,295.0L663.7,295.0Z" fill="#231f20"/>
<path d="M693.0,309.8L698.8,319.1L687.2,319.1Z" fill="#231f20"/>
<path d="M679.5,312.1L685.3,321.4L673.7,321.4Z" fill="#231f20"/>
<path d="M722.4,367.5L728.2,376.8L716.6,376.8Z" fill="#231f20"/>
<path d="M751.5,451.3L757.3,460.6L745.7,460.6Z" fill="#231f20"/>
<path d="M693.1,344.2L699.8,355.3L686.5,355.3Z" fill="#e2331f" stroke="#a01810" stroke-width="0.7"/><circle cx="693.2" cy="350.8" r="0.9" fill="#231f20"/>
<defs><filter id="gblur" x="-10%" y="-10%" width="120%" height="120%"><feGaussianBlur stdDeviation="8"/></filter><filter id="dblur" x="-5%" y="-5%" width="110%" height="110%"><feGaussianBlur stdDeviation="2"/></filter>
<filter id="relief" x="0" y="0" width="100%" height="100%" color-interpolation-filters="sRGB"><feTurbulence type="fractalNoise" baseFrequency="0.022 0.03" numOctaves="4" seed="11"/><feDiffuseLighting surfaceScale="18" diffuseConstant="0.74" lighting-color="#fff"><feDistantLight azimuth="250" elevation="45"/></feDiffuseLighting></filter>
<filter id="contours" x="0" y="0" width="100%" height="100%" color-interpolation-filters="sRGB"><feTurbulence type="fractalNoise" baseFrequency="0.008 0.011" numOctaves="2" seed="5" result="n0"/><feGaussianBlur in="n0" stdDeviation="2" result="n"/><feColorMatrix in="n" type="matrix" values="0 0 0 0 0  0 0 0 0 0  0 0 0 0 0  2.4 0 0 0 -0.7" result="h"/><feComponentTransfer in="h" result="b"><feFuncA type="discrete" tableValues="0 1 0 1 0 1 0 1 0 1 0 1 0 1 0 1 0 1"/></feComponentTransfer><feConvolveMatrix in="b" order="3" kernelMatrix="0 -1 0 -1 4 -1 0 -1 0" edgeMode="duplicate" result="e"/><feFlood flood-color="#d9a441" result="f"/><feComposite in="f" in2="e" operator="in"/></filter>
<g id="terrain"><g filter="url(#gblur)"><rect x="-24.1" y="-24.8" width="24.57" height="25.33" fill="rgb(201,201,201)"/><rect x="0.0" y="-24.8" width="24.57" height="25.33" fill="rgb(201,201,201)"/><rect x="24.1" y="-24.8" width="24.57" height="25.33" fill="rgb(160,160,160)"/><rect x="48.1" y="-24.8" width="24.57" height="25.33" fill="rgb(232,232,232)"/><rect x="72.2" y="-24.8" width="24.57" height="25.33" fill="rgb(192,192,192)"/><rect x="96.3" y="-24.8" width="24.57" height="25.33" fill="rgb(225,225,225)"/><rect x="120.3" y="-24.8" width="24.57" height="25.33" fill="rgb(223,223,223)"/><rect x="144.4" y="-24.8" width="24.57" height="25.33" fill="rgb(212,212,212)"/><rect x="168.5" y="-24.8" width="24.57" height="25.33" fill="rgb(221,221,221)"/><rect x="192.5" y="-24.8" width="24.57" height="25.33" fill="rgb(215,215,215)"/><rect x="216.6" y="-24.8" width="24.57" height="25.33" fill="rgb(218,218,218)"/><rect x="240.7" y="-24.8" width="24.57" height="25.33" fill="rgb(219,219,219)"/><rect x="264.7" y="-24.8" width="24.57" height="25.33" fill="rgb(185,185,185)"/><rect x="288.8" y="-24.8" width="24.57" height="25.33" fill="rgb(217,217,217)"/><rect x="312.9" y="-24.8" width="24.57" height="25.33" fill="rgb(204,204,204)"/><rect x="336.9" y="-24.8" width="24.57" height="25.33" fill="rgb(218,218,218)"/><rect x="361.0" y="-24.8" width="24.57" height="25.33" fill="rgb(218,218,218)"/><rect x="-24.1" y="0.0" width="24.57" height="25.33" fill="rgb(201,201,201)"/><rect x="0.0" y="0.0" width="24.57" height="25.33" fill="rgb(201,201,201)"/><rect x="24.1" y="0.0" width="24.57" height="25.33" fill="rgb(160,160,160)"/><rect x="48.1" y="0.0" width="24.57" height="25.33" fill="rgb(232,232,232)"/><rect x="72.2" y="0.0" width="24.57" height="25.33" fill="rgb(192,192,192)"/><rect x="96.3" y="0.0" width="24.57" height="25.33" fill="rgb(225,225,225)"/><rect x="120.3" y="0.0" width="24.57" height="25.33" fill="rgb(223,223,223)"/><rect x="144.4" y="0.0" width="24.57" height="25.33" fill="rgb(212,212,212)"/><rect x="168.5" y="0.0" width="24.57" height="25.33" fill="rgb(221,221,221)"/><rect x="192.5" y="0.0" width="24.57" height="25.33" fill="rgb(215,215,215)"/><rect x="216.6" y="0.0" width="24.57" height="25.33" fill="rgb(218,218,218)"/><rect x="240.7" y="0.0" width="24.57" height="25.33" fill="rgb(219,219,219)"/><rect x="264.7" y="0.0" width="24.57" height="25.33" fill="rgb(185,185,185)"/><rect x="288.8" y="0.0" width="24.57" height="25.33" fill="rgb(217,217,217)"/><rect x="312.9" y="0.0" width="24.57" height="25.33" fill="rgb(204,204,204)"/><rect x="336.9" y="0.0" width="24.57" height="25.33" fill="rgb(218,218,218)"/><rect x="361.0" y="0.0" width="24.57" height="25.33" fill="rgb(218,218,218)"/><rect x="-24.1" y="24.8" width="24.57" height="25.33" fill="rgb(122,122,122)"/><rect x="0.0" y="24.8" width="24.57" height="25.33" fill="rgb(122,122,122)"/><rect x="24.1" y="24.8" width="24.57" height="25.33" fill="rgb(204,204,204)"/><rect x="48.1" y="24.8" width="24.57" height="25.33" fill="rgb(217,217,217)"/><rect x="72.2" y="24.8" width="24.57" height="25.33" fill="rgb(225,225,225)"/><rect x="96.3" y="24.8" width="24.57" height="25.33" fill="rgb(188,188,188)"/><rect x="120.3" y="24.8" width="24.57" height="25.33" fill="rgb(178,178,178)"/><rect x="144.4" y="24.8" width="24.57" height="25.33" fill="rgb(178,178,178)"/><rect x="168.5" y="24.8" width="24.57" height="25.33" fill="rgb(181,181,181)"/><rect x="192.5" y="24.8" width="24.57" height="25.33" fill="rgb(211,211,211)"/><rect x="216.6" y="24.8" width="24.57" height="25.33" fill="rgb(196,196,196)"/><rect x="240.7" y="24.8" width="24.57" height="25.33" fill="rgb(228,228,228)"/><rect x="264.7" y="24.8" width="24.57" height="25.33" fill="rgb(215,215,215)"/><rect x="288.8" y="24.8" width="24.57" height="25.33" fill="rgb(216,216,216)"/><rect x="312.9" y="24.8" width="24.57" height="25.33" fill="rgb(218,218,218)"/><rect x="336.9" y="24.8" width="24.57" height="25.33" fill="rgb(204,204,204)"/><rect x="361.0" y="24.8" width="24.57" height="25.33" fill="rgb(204,204,204)"/><rect x="-24.1" y="49.7" width="24.57" height="25.33" fill="rgb(215,215,215)"/><rect x="0.0" y="49.7" width="24.57" height="25.33" fill="rgb(215,215,215)"/><rect x="24.1" y="49.7" width="24.57" height="25.33" fill="rgb(187,187,187)"/><rect x="48.1" y="49.7" width="24.57" height="25.33" fill="rgb(155,155,155)"/><rect x="72.2" y="49.7" width="24.57" height="25.33" fill="rgb(182,182,182)"/><rect x="96.3" y="49.7" width="24.57" height="25.33" fill="rgb(204,204,204)"/><rect x="120.3" y="49.7" width="24.57" height="25.33" fill="rgb(219,219,219)"/><rect x="144.4" y="49.7" width="24.57" height="25.33" fill="rgb(0,0,0)"/><rect x="168.5" y="49.7" width="24.57" height="25.33" fill="rgb(0,0,0)"/><rect x="192.5" y="49.7" width="24.57" height="25.33" fill="rgb(200,200,200)"/><rect x="216.6" y="49.7" width="24.57" height="25.33" fill="rgb(231,231,231)"/><rect x="240.7" y="49.7" width="24.57" height="25.33" fill="rgb(208,208,208)"/><rect x="264.7" y="49.7" width="24.57" height="25.33" fill="rgb(186,186,186)"/><rect x="288.8" y="49.7" width="24.57" height="25.33" fill="rgb(177,177,177)"/><rect x="312.9" y="49.7" width="24.57" height="25.33" fill="rgb(195,195,195)"/><rect x="336.9" y="49.7" width="24.57" height="25.33" fill="rgb(209,209,209)"/><rect x="361.0" y="49.7" width="24.57" height="25.33" fill="rgb(209,209,209)"/><rect x="-24.1" y="74.5" width="24.57" height="25.33" fill="rgb(196,196,196)"/><rect x="0.0" y="74.5" width="24.57" height="25.33" fill="rgb(196,196,196)"/><rect x="24.1" y="74.5" width="24.57" height="25.33" fill="rgb(208,208,208)"/><rect x="48.1" y="74.5" width="24.57" height="25.33" fill="rgb(209,209,209)"/><rect x="72.2" y="74.5" width="24.57" height="25.33" fill="rgb(209,209,209)"/><rect x="96.3" y="74.5" width="24.57" height="25.33" fill="rgb(92,92,92)"/><rect x="120.3" y="74.5" width="24.57" height="25.33" fill="rgb(148,148,148)"/><rect x="144.4" y="74.5" width="24.57" height="25.33" fill="rgb(142,142,142)"/><rect x="168.5" y="74.5" width="24.57" height="25.33" fill="rgb(155,155,155)"/><rect x="192.5" y="74.5" width="24.57" height="25.33" fill="rgb(216,216,216)"/><rect x="216.6" y="74.5" width="24.57" height="25.33" fill="rgb(201,201,201)"/><rect x="240.7" y="74.5" width="24.57" height="25.33" fill="rgb(229,229,229)"/><rect x="264.7" y="74.5" width="24.57" height="25.33" fill="rgb(165,165,165)"/><rect x="288.8" y="74.5" width="24.57" height="25.33" fill="rgb(173,173,173)"/><rect x="312.9" y="74.5" width="24.57" height="25.33" fill="rgb(201,201,201)"/><rect x="336.9" y="74.5" width="24.57" height="25.33" fill="rgb(153,153,153)"/><rect x="361.0" y="74.5" width="24.57" height="25.33" fill="rgb(153,153,153)"/><rect x="-24.1" y="99.3" width="24.57" height="25.33" fill="rgb(154,154,154)"/><rect x="0.0" y="99.3" width="24.57" height="25.33" fill="rgb(154,154,154)"/><rect x="24.1" y="99.3" width="24.57" height="25.33" fill="rgb(199,199,199)"/><rect x="48.1" y="99.3" width="24.57" height="25.33" fill="rgb(105,105,105)"/><rect x="72.2" y="99.3" width="24.57" height="25.33" fill="rgb(92,92,92)"/><rect x="96.3" y="99.3" width="24.57" height="25.33" fill="rgb(193,193,193)"/><rect x="120.3" y="99.3" width="24.57" height="25.33" fill="rgb(255,255,255)"/><rect x="144.4" y="99.3" width="24.57" height="25.33" fill="rgb(190,190,190)"/><rect x="168.5" y="99.3" width="24.57" height="25.33" fill="rgb(143,143,143)"/><rect x="192.5" y="99.3" width="24.57" height="25.33" fill="rgb(117,117,117)"/><rect x="216.6" y="99.3" width="24.57" height="25.33" fill="rgb(210,210,210)"/><rect x="240.7" y="99.3" width="24.57" height="25.33" fill="rgb(198,198,198)"/><rect x="264.7" y="99.3" width="24.57" height="25.33" fill="rgb(249,249,249)"/><rect x="288.8" y="99.3" width="24.57" height="25.33" fill="rgb(128,128,128)"/><rect x="312.9" y="99.3" width="24.57" height="25.33" fill="rgb(195,195,195)"/><rect x="336.9" y="99.3" width="24.57" height="25.33" fill="rgb(201,201,201)"/><rect x="361.0" y="99.3" width="24.57" height="25.33" fill="rgb(201,201,201)"/><rect x="-24.1" y="124.2" width="24.57" height="25.33" fill="rgb(97,97,97)"/><rect x="0.0" y="124.2" width="24.57" height="25.33" fill="rgb(97,97,97)"/><rect x="24.1" y="124.2" width="24.57" height="25.33" fill="rgb(227,227,227)"/><rect x="48.1" y="124.2" width="24.57" height="25.33" fill="rgb(91,91,91)"/><rect x="72.2" y="124.2" width="24.57" height="25.33" fill="rgb(156,156,156)"/><rect x="96.3" y="124.2" width="24.57" height="25.33" fill="rgb(125,125,125)"/><rect x="120.3" y="124.2" width="24.57" height="25.33" fill="rgb(231,231,231)"/><rect x="144.4" y="124.2" width="24.57" height="25.33" fill="rgb(192,192,192)"/><rect x="168.5" y="124.2" width="24.57" height="25.33" fill="rgb(0,0,0)"/><rect x="192.5" y="124.2" width="24.57" height="25.33" fill="rgb(182,182,182)"/><rect x="216.6" y="124.2" width="24.57" height="25.33" fill="rgb(115,115,115)"/><rect x="240.7" y="124.2" width="24.57" height="25.33" fill="rgb(153,153,153)"/><rect x="264.7" y="124.2" width="24.57" height="25.33" fill="rgb(237,237,237)"/><rect x="288.8" y="124.2" width="24.57" height="25.33" fill="rgb(161,161,161)"/><rect x="312.9" y="124.2" width="24.57" height="25.33" fill="rgb(145,145,145)"/><rect x="336.9" y="124.2" width="24.57" height="25.33" fill="rgb(181,181,181)"/><rect x="361.0" y="124.2" width="24.57" height="25.33" fill="rgb(181,181,181)"/><rect x="-24.1" y="149.0" width="24.57" height="25.33" fill="rgb(220,220,220)"/><rect x="0.0" y="149.0" width="24.57" height="25.33" fill="rgb(220,220,220)"/><rect x="24.1" y="149.0" width="24.57" height="25.33" fill="rgb(135,135,135)"/><rect x="48.1" y="149.0" width="24.57" height="25.33" fill="rgb(142,142,142)"/><rect x="72.2" y="149.0" width="24.57" height="25.33" fill="rgb(90,90,90)"/><rect x="96.3" y="149.0" width="24.57" height="25.33" fill="rgb(95,95,95)"/><rect x="120.3" y="149.0" width="24.57" height="25.33" fill="rgb(227,227,227)"/><rect x="144.4" y="149.0" width="24.57" height="25.33" fill="rgb(78,78,78)"/><rect x="168.5" y="149.0" width="24.57" height="25.33" fill="rgb(160,160,160)"/><rect x="192.5" y="149.0" width="24.57" height="25.33" fill="rgb(200,200,200)"/><rect x="216.6" y="149.0" width="24.57" height="25.33" fill="rgb(67,67,67)"/><rect x="240.7" y="149.0" width="24.57" height="25.33" fill="rgb(255,255,255)"/><rect x="264.7" y="149.0" width="24.57" height="25.33" fill="rgb(146,146,146)"/><rect x="288.8" y="149.0" width="24.57" height="25.33" fill="rgb(152,152,152)"/><rect x="312.9" y="149.0" width="24.57" height="25.33" fill="rgb(126,126,126)"/><rect x="336.9" y="149.0" width="24.57" height="25.33" fill="rgb(186,186,186)"/><rect x="361.0" y="149.0" width="24.57" height="25.33" fill="rgb(186,186,186)"/><rect x="-24.1" y="173.8" width="24.57" height="25.33" fill="rgb(99,99,99)"/><rect x="0.0" y="173.8" width="24.57" height="25.33" fill="rgb(99,99,99)"/><rect x="24.1" y="173.8" width="24.57" height="25.33" fill="rgb(51,51,51)"/><rect x="48.1" y="173.8" width="24.57" height="25.33" fill="rgb(102,102,102)"/><rect x="72.2" y="173.8" width="24.57" height="25.33" fill="rgb(93,93,93)"/><rect x="96.3" y="173.8" width="24.57" height="25.33" fill="rgb(114,114,114)"/><rect x="120.3" y="173.8" width="24.57" height="25.33" fill="rgb(7,7,7)"/><rect x="144.4" y="173.8" width="24.57" height="25.33" fill="rgb(167,167,167)"/><rect x="168.5" y="173.8" width="24.57" height="25.33" fill="rgb(160,160,160)"/><rect x="192.5" y="173.8" width="24.57" height="25.33" fill="rgb(0,0,0)"/><rect x="216.6" y="173.8" width="24.57" height="25.33" fill="rgb(105,105,105)"/><rect x="240.7" y="173.8" width="24.57" height="25.33" fill="rgb(181,181,181)"/><rect x="264.7" y="173.8" width="24.57" height="25.33" fill="rgb(102,102,102)"/><rect x="288.8" y="173.8" width="24.57" height="25.33" fill="rgb(0,0,0)"/><rect x="312.9" y="173.8" width="24.57" height="25.33" fill="rgb(166,166,166)"/><rect x="336.9" y="173.8" width="24.57" height="25.33" fill="rgb(155,155,155)"/><rect x="361.0" y="173.8" width="24.57" height="25.33" fill="rgb(155,155,155)"/><rect x="-24.1" y="198.7" width="24.57" height="25.33" fill="rgb(137,137,137)"/><rect x="0.0" y="198.7" width="24.57" height="25.33" fill="rgb(137,137,137)"/><rect x="24.1" y="198.7" width="24.57" height="25.33" fill="rgb(0,0,0)"/><rect x="48.1" y="198.7" width="24.57" height="25.33" fill="rgb(52,52,52)"/><rect x="72.2" y="198.7" width="24.57" height="25.33" fill="rgb(0,0,0)"/><rect x="96.3" y="198.7" width="24.57" height="25.33" fill="rgb(94,94,94)"/><rect x="120.3" y="198.7" width="24.57" height="25.33" fill="rgb(245,245,245)"/><rect x="144.4" y="198.7" width="24.57" height="25.33" fill="rgb(159,159,159)"/><rect x="168.5" y="198.7" width="24.57" height="25.33" fill="rgb(143,143,143)"/><rect x="192.5" y="198.7" width="24.57" height="25.33" fill="rgb(219,219,219)"/><rect x="216.6" y="198.7" width="24.57" height="25.33" fill="rgb(197,197,197)"/><rect x="240.7" y="198.7" width="24.57" height="25.33" fill="rgb(204,204,204)"/><rect x="264.7" y="198.7" width="24.57" height="25.33" fill="rgb(176,176,176)"/><rect x="288.8" y="198.7" width="24.57" height="25.33" fill="rgb(211,211,211)"/><rect x="312.9" y="198.7" width="24.57" height="25.33" fill="rgb(127,127,127)"/><rect x="336.9" y="198.7" width="24.57" height="25.33" fill="rgb(210,210,210)"/><rect x="361.0" y="198.7" width="24.57" height="25.33" fill="rgb(210,210,210)"/><rect x="-24.1" y="223.5" width="24.57" height="25.33" fill="rgb(185,185,185)"/><rect x="0.0" y="223.5" width="24.57" height="25.33" fill="rgb(185,185,185)"/><rect x="24.1" y="223.5" width="24.57" height="25.33" fill="rgb(202,202,202)"/><rect x="48.1" y="223.5" width="24.57" height="25.33" fill="rgb(224,224,224)"/><rect x="72.2" y="223.5" width="24.57" height="25.33" fill="rgb(169,169,169)"/><rect x="96.3" y="223.5" width="24.57" height="25.33" fill="rgb(195,195,195)"/><rect x="120.3" y="223.5" width="24.57" height="25.33" fill="rgb(134,134,134)"/><rect x="144.4" y="223.5" width="24.57" height="25.33" fill="rgb(129,129,129)"/><rect x="168.5" y="223.5" width="24.57" height="25.33" fill="rgb(146,146,146)"/><rect x="192.5" y="223.5" width="24.57" height="25.33" fill="rgb(178,178,178)"/><rect x="216.6" y="223.5" width="24.57" height="25.33" fill="rgb(192,192,192)"/><rect x="240.7" y="223.5" width="24.57" height="25.33" fill="rgb(146,146,146)"/><rect x="264.7" y="223.5" width="24.57" height="25.33" fill="rgb(255,255,255)"/><rect x="288.8" y="223.5" width="24.57" height="25.33" fill="rgb(156,156,156)"/><rect x="312.9" y="223.5" width="24.57" height="25.33" fill="rgb(210,210,210)"/><rect x="336.9" y="223.5" width="24.57" height="25.33" fill="rgb(181,181,181)"/><rect x="361.0" y="223.5" width="24.57" height="25.33" fill="rgb(181,181,181)"/><rect x="-24.1" y="248.3" width="24.57" height="25.33" fill="rgb(192,192,192)"/><rect x="0.0" y="248.3" width="24.57" height="25.33" fill="rgb(192,192,192)"/><rect x="24.1" y="248.3" width="24.57" height="25.33" fill="rgb(173,173,173)"/><rect x="48.1" y="248.3" width="24.57" height="25.33" fill="rgb(60,60,60)"/><rect x="72.2" y="248.3" width="24.57" height="25.33" fill="rgb(99,99,99)"/><rect x="96.3" y="248.3" width="24.57" height="25.33" fill="rgb(18,18,18)"/><rect x="120.3" y="248.3" width="24.57" height="25.33" fill="rgb(217,217,217)"/><rect x="144.4" y="248.3" width="24.57" height="25.33" fill="rgb(212,212,212)"/><rect x="168.5" y="248.3" width="24.57" height="25.33" fill="rgb(184,184,184)"/><rect x="192.5" y="248.3" width="24.57" height="25.33" fill="rgb(211,211,211)"/><rect x="216.6" y="248.3" width="24.57" height="25.33" fill="rgb(185,185,185)"/><rect x="240.7" y="248.3" width="24.57" height="25.33" fill="rgb(212,212,212)"/><rect x="264.7" y="248.3" width="24.57" height="25.33" fill="rgb(173,173,173)"/><rect x="288.8" y="248.3" width="24.57" height="25.33" fill="rgb(228,228,228)"/><rect x="312.9" y="248.3" width="24.57" height="25.33" fill="rgb(109,109,109)"/><rect x="336.9" y="248.3" width="24.57" height="25.33" fill="rgb(213,213,213)"/><rect x="361.0" y="248.3" width="24.57" height="25.33" fill="rgb(213,213,213)"/><rect x="-24.1" y="273.2" width="24.57" height="25.33" fill="rgb(166,166,166)"/><rect x="0.0" y="273.2" width="24.57" height="25.33" fill="rgb(166,166,166)"/><rect x="24.1" y="273.2" width="24.57" height="25.33" fill="rgb(143,143,143)"/><rect x="48.1" y="273.2" width="24.57" height="25.33" fill="rgb(203,203,203)"/><rect x="72.2" y="273.2" width="24.57" height="25.33" fill="rgb(182,182,182)"/><rect x="96.3" y="273.2" width="24.57" height="25.33" fill="rgb(168,168,168)"/><rect x="120.3" y="273.2" width="24.57" height="25.33" fill="rgb(160,160,160)"/><rect x="144.4" y="273.2" width="24.57" height="25.33" fill="rgb(147,147,147)"/><rect x="168.5" y="273.2" width="24.57" height="25.33" fill="rgb(180,180,180)"/><rect x="192.5" y="273.2" width="24.57" height="25.33" fill="rgb(199,199,199)"/><rect x="216.6" y="273.2" width="24.57" height="25.33" fill="rgb(217,217,217)"/><rect x="240.7" y="273.2" width="24.57" height="25.33" fill="rgb(202,202,202)"/><rect x="264.7" y="273.2" width="24.57" height="25.33" fill="rgb(230,230,230)"/><rect x="288.8" y="273.2" width="24.57" height="25.33" fill="rgb(137,137,137)"/><rect x="312.9" y="273.2" width="24.57" height="25.33" fill="rgb(195,195,195)"/><rect x="336.9" y="273.2" width="24.57" height="25.33" fill="rgb(187,187,187)"/><rect x="361.0" y="273.2" width="24.57" height="25.33" fill="rgb(187,187,187)"/><rect x="-24.1" y="298.0" width="24.57" height="25.33" fill="rgb(166,166,166)"/><rect x="0.0" y="298.0" width="24.57" height="25.33" fill="rgb(166,166,166)"/><rect x="24.1" y="298.0" width="24.57" height="25.33" fill="rgb(143,143,143)"/><rect x="48.1" y="298.0" width="24.57" height="25.33" fill="rgb(203,203,203)"/><rect x="72.2" y="298.0" width="24.57" height="25.33" fill="rgb(182,182,182)"/><rect x="96.3" y="298.0" width="24.57" height="25.33" fill="rgb(168,168,168)"/><rect x="120.3" y="298.0" width="24.57" height="25.33" fill="rgb(160,160,160)"/><rect x="144.4" y="298.0" width="24.57" height="25.33" fill="rgb(147,147,147)"/><rect x="168.5" y="298.0" width="24.57" height="25.33" fill="rgb(180,180,180)"/><rect x="192.5" y="298.0" width="24.57" height="25.33" fill="rgb(199,199,199)"/><rect x="216.6" y="298.0" width="24.57" height="25.33" fill="rgb(217,217,217)"/><rect x="240.7" y="298.0" width="24.57" height="25.33" fill="rgb(202,202,202)"/><rect x="264.7" y="298.0" width="24.57" height="25.33" fill="rgb(230,230,230)"/><rect x="288.8" y="298.0" width="24.57" height="25.33" fill="rgb(137,137,137)"/><rect x="312.9" y="298.0" width="24.57" height="25.33" fill="rgb(195,195,195)"/><rect x="336.9" y="298.0" width="24.57" height="25.33" fill="rgb(187,187,187)"/><rect x="361.0" y="298.0" width="24.57" height="25.33" fill="rgb(187,187,187)"/></g><g filter="url(#dblur)"><path d="M27.8,112.0 C29.7,110.7 42.7,108.6 46.4,108.0 C50.1,107.4 61.2,107.1 64.9,106.3 C68.6,105.5 80.3,100.9 83.5,99.9 C86.7,98.9 93.6,95.7 96.4,96.1 C99.2,96.5 108.9,103.2 111.3,103.6 C113.7,104.0 119.1,99.3 120.0,99.9 C120.9,100.5 120.9,108.6 120.0,110.0 C119.1,111.4 113.7,114.0 111.3,113.6 C108.9,113.2 99.2,106.4 96.4,106.0 C93.6,105.6 86.7,108.9 83.5,110.0 C80.3,111.1 68.6,116.1 64.9,117.0 C61.2,117.9 50.1,118.6 46.4,119.0 C42.7,119.4 29.7,121.7 27.8,121.0 C25.9,120.3 25.9,113.3 27.8,112.0Z" fill="#101010" fill-opacity="0.68"/><path d="M24.0,118.0 C26.8,116.2 47.2,115.3 50.0,117.0 C52.8,118.7 52.4,131.9 52.0,135.0 C51.6,138.1 48.2,146.5 46.0,148.0 C43.8,149.5 32.4,151.3 30.0,150.0 C27.6,148.7 22.6,138.2 22.0,135.0 C21.4,131.8 21.2,119.8 24.0,118.0Z" fill="#181818" fill-opacity="0.56"/><path d="M0.0,124.0 C1.1,123.3 9.2,126.3 11.0,127.0 C12.8,127.7 18.2,130.0 18.5,131.0 C18.8,132.0 15.8,136.7 14.0,137.0 C12.2,137.3 1.4,135.3 0.0,134.0 C-1.4,132.7 -1.1,124.7 0.0,124.0Z" fill="#181818" fill-opacity="0.60"/><path d="M145.0,80.0 C146.0,78.8 151.8,73.2 154.0,72.0 C156.2,70.8 164.7,69.0 167.0,68.0 C169.3,67.0 175.2,63.3 177.0,62.0 C178.8,60.7 183.5,56.0 185.0,55.0 C186.5,54.0 191.1,51.3 192.0,52.0 C192.9,52.7 194.2,59.6 194.0,62.0 C193.8,64.4 191.3,73.9 190.0,76.0 C188.7,78.1 182.8,82.1 181.0,83.0 C179.2,83.9 173.7,84.6 172.0,85.0 C170.3,85.4 165.6,86.6 164.0,87.0 C162.4,87.4 157.6,88.9 156.0,89.0 C154.4,89.1 149.2,88.5 148.0,88.0 C146.8,87.5 144.3,84.8 144.0,84.0 C143.7,83.2 144.0,81.2 145.0,80.0Z" fill="#0c0c0c" fill-opacity="0.74"/><path d="M175.6,18.5 C177.9,16.4 200.6,14.4 203.5,18.5 C206.4,22.6 206.3,55.6 205.0,60.0 C203.7,64.3 192.5,64.0 190.0,62.0 C187.5,60.0 181.4,44.4 180.0,40.0 C178.6,35.6 173.2,20.6 175.6,18.5Z" fill="#777777" fill-opacity="0.36"/><path d="M160.8,126.1 C162.1,123.3 169.7,119.8 171.9,118.7 C174.1,117.6 181.4,115.0 183.1,115.0 C184.8,115.0 188.2,117.2 188.6,118.7 C189.0,120.2 188.1,127.6 186.8,129.8 C185.5,132.0 177.6,139.1 175.6,141.0 C173.6,142.9 168.1,147.8 166.4,148.4 C164.7,149.0 159.5,148.7 158.9,146.5 C158.3,144.3 159.5,128.9 160.8,126.1Z" fill="#101010" fill-opacity="0.68"/><path d="M209.0,126.1 C209.7,125.2 218.6,123.9 220.1,124.3 C221.6,124.7 224.6,128.9 223.9,129.8 C223.2,130.7 214.2,133.9 212.7,133.5 C211.2,133.1 208.3,127.0 209.0,126.1Z" fill="#151515" fill-opacity="0.64"/><path d="M277.4,33.4 C278.1,31.7 286.5,28.7 288.5,29.6 C290.5,30.5 296.6,40.0 297.7,42.6 C298.8,45.2 300.2,53.0 299.6,55.6 C299.1,58.2 293.7,66.8 292.2,68.6 C290.7,70.4 286.1,74.8 284.8,74.1 C283.5,73.3 279.6,63.9 279.2,61.1 C278.8,58.3 281.3,49.1 281.1,46.3 C280.9,43.5 276.7,35.1 277.4,33.4Z" fill="#121212" fill-opacity="0.64"/><path d="M344.0,96.3 C344.4,95.4 350.4,98.6 351.5,100.1 C352.6,101.6 355.6,110.3 355.2,111.2 C354.8,112.1 348.9,110.8 347.8,109.3 C346.7,107.8 343.6,97.2 344.0,96.3Z" fill="#151515" fill-opacity="0.64"/><path d="M253.3,159.9 C255.9,157.9 273.1,155.8 277.4,156.2 C281.7,156.6 292.2,162.1 295.9,163.6 C299.6,165.1 312.2,168.8 314.4,171.0 C316.6,173.2 318.5,182.9 318.1,185.9 C317.7,188.9 312.2,197.4 310.7,200.7 C309.2,204.0 304.4,216.6 303.3,219.2 C302.2,221.8 300.7,228.1 299.6,226.6 C298.5,225.1 294.4,207.7 292.2,204.4 C290.0,201.1 280.7,194.8 277.4,193.3 C274.1,191.8 261.4,191.3 258.8,189.6 C256.2,187.9 252.0,179.6 251.4,176.6 C250.8,173.6 250.7,161.9 253.3,159.9Z" fill="#8a8a8a" fill-opacity="0.48"/><path d="M240.3,148.8 C241.4,146.4 249.9,154.0 251.4,156.2 C252.9,158.4 256.2,168.6 255.1,171.0 C254.0,173.4 241.8,182.5 240.3,180.3 C238.8,178.1 239.2,151.2 240.3,148.8Z" fill="#303030" fill-opacity="0.40"/><path d="M113.0,108.0 C113.7,103.4 121.1,102.3 123.0,104.0 C124.9,105.7 131.0,119.9 132.0,125.0 C133.0,130.1 133.8,151.3 133.0,155.0 C132.2,158.7 125.7,162.5 124.0,162.0 C122.3,161.5 117.1,155.4 116.0,150.0 C114.9,144.6 112.3,112.6 113.0,108.0Z" fill="#ffffff" fill-opacity="0.60"/><path d="M28.0,28.0 C31.0,23.8 58.2,26.6 62.0,30.0 C65.8,33.4 66.7,57.5 66.0,62.0 C65.3,66.5 58.4,74.0 55.0,75.0 C51.6,76.0 34.7,76.7 32.0,72.0 C29.3,67.3 25.0,32.2 28.0,28.0Z" fill="#ffffff" fill-opacity="0.35"/><path d="M125.0,195.0 C130.5,192.5 178.5,189.0 185.0,190.0 C191.5,191.0 195.5,202.5 190.0,205.0 C184.5,207.5 136.5,216.0 130.0,215.0 C123.5,214.0 119.5,197.5 125.0,195.0Z" fill="#ffffff" fill-opacity="0.30"/><path d="M150.0,215.0 C158.5,212.0 230.0,204.0 240.0,205.0 C250.0,206.0 258.5,222.0 250.0,225.0 C241.5,228.0 165.0,236.0 155.0,235.0 C145.0,234.0 141.5,218.0 150.0,215.0Z" fill="#ffffff" fill-opacity="0.35"/><path d="M60.0,215.0 C64.5,212.2 104.5,200.0 110.0,200.0 C115.5,200.0 119.5,212.2 115.0,215.0 C110.5,217.8 70.5,228.0 65.0,228.0 C59.5,228.0 55.5,217.8 60.0,215.0Z" fill="#ffffff" fill-opacity="0.30"/><path d="M261.3,108.8 C263.0,111.3 270.0,118.8 271.3,123.8 C272.6,128.8 271.3,133.8 269.3,138.8 C267.3,143.8 262.3,150.4 259.3,153.8 C256.3,157.2 252.6,158.4 251.3,159.3" fill="none" stroke="#0c0c0c" stroke-opacity="0.72" stroke-width="8.0" stroke-linecap="round" stroke-linejoin="round"/><path d="M22.3,0.0 C22.4,1.8 22.6,6.4 23.2,11.0 C23.8,15.6 25.2,22.5 26.0,27.8 C26.8,33.1 27.2,38.4 27.8,42.7 C28.4,47.0 29.4,51.9 29.7,53.8" fill="none" stroke="#151515" stroke-opacity="0.68" stroke-width="2.2" stroke-linecap="round" stroke-linejoin="round"/><path d="M59.3,46.4 C60.1,47.9 62.8,52.8 64.0,55.6 C65.2,58.4 66.0,60.5 66.8,63.0 C67.6,65.5 68.3,69.2 68.6,70.5" fill="none" stroke="#151515" stroke-opacity="0.59" stroke-width="3.0" stroke-linecap="round" stroke-linejoin="round"/><path d="M44.5,77.9 C44.2,79.8 43.2,85.3 42.7,89.0 C42.2,92.7 41.7,96.3 41.7,100.0 C41.7,103.7 42.5,109.4 42.7,111.3" fill="none" stroke="#101010" stroke-opacity="0.72" stroke-width="5.5" stroke-linecap="round" stroke-linejoin="round"/><path d="M63.0,118.7 C65.5,119.9 73.6,123.6 77.9,126.1 C82.2,128.6 84.7,131.0 89.0,133.5 C93.3,136.0 101.4,139.8 103.9,141.0" fill="none" stroke="#151515" stroke-opacity="0.68" stroke-width="5.0" stroke-linecap="round" stroke-linejoin="round"/><path d="M103.9,111.3 C105.1,112.5 108.6,118.1 111.3,118.7 C114.0,119.3 118.5,115.6 120.0,115.0" fill="none" stroke="#151515" stroke-opacity="0.68" stroke-width="4.0" stroke-linecap="round" stroke-linejoin="round"/><path d="M160.8,83.5 C161.4,85.0 164.2,89.9 164.5,92.7 C164.8,95.5 163.0,98.9 162.7,100.1" fill="none" stroke="#101010" stroke-opacity="0.68" stroke-width="4.6" stroke-linecap="round" stroke-linejoin="round"/><path d="" fill="none" stroke="#151515" stroke-opacity="0.59" stroke-width="3.0" stroke-linecap="round" stroke-linejoin="round"/><path d="M257.0,79.7 C258.2,80.6 262.5,82.4 264.4,85.2 C266.2,88.0 268.4,93.2 268.1,96.3 C267.8,99.4 263.4,102.5 262.5,103.8" fill="none" stroke="#151515" stroke-opacity="0.64" stroke-width="5.0" stroke-linecap="round" stroke-linejoin="round"/><path d="M307.0,105.6 C307.6,107.1 310.7,112.1 310.7,114.9 C310.7,117.7 307.6,121.1 307.0,122.3" fill="none" stroke="#151515" stroke-opacity="0.59" stroke-width="3.0" stroke-linecap="round" stroke-linejoin="round"/><path d="" fill="none" stroke="#151515" stroke-opacity="0.59" stroke-width="4.0" stroke-linecap="round" stroke-linejoin="round"/><path d="M24.1,176.6 C26.3,175.1 33.7,170.7 37.1,167.3 C40.5,163.9 42.6,159.3 44.5,156.2 C46.4,153.1 47.6,150.0 48.2,148.8" fill="none" stroke="#0c0c0c" stroke-opacity="0.72" stroke-width="7.0" stroke-linecap="round" stroke-linejoin="round"/><path d="M0.0,219.3 C3.1,217.8 12.3,212.8 18.5,210.0 C24.7,207.2 30.9,204.8 37.1,202.6 C43.3,200.4 49.4,198.8 55.6,197.0 C61.8,195.2 68.0,193.3 74.2,191.5 C80.4,189.7 86.5,187.8 92.7,185.9 C98.9,184.0 106.8,181.9 111.3,180.3 C115.8,178.8 118.5,177.2 120.0,176.6" fill="none" stroke="#0a0a0a" stroke-opacity="0.77" stroke-width="11.0" stroke-linecap="round" stroke-linejoin="round"/><path d="M27.8,236.0 C30.9,234.4 40.2,229.5 46.4,226.7 C52.6,223.9 58.7,221.8 64.9,219.3 C71.1,216.8 77.3,214.1 83.5,211.9 C89.7,209.7 95.9,208.2 102.0,206.3 C108.1,204.4 117.0,201.6 120.0,200.7" fill="none" stroke="#0c0c0c" stroke-opacity="0.72" stroke-width="7.0" stroke-linecap="round" stroke-linejoin="round"/><path d="M0.0,245.2 C3.1,244.3 12.3,241.2 18.5,239.7 C24.7,238.2 34.0,236.6 37.1,236.0" fill="none" stroke="#101010" stroke-opacity="0.72" stroke-width="6.0" stroke-linecap="round" stroke-linejoin="round"/><path d="M46.4,247.1 C47.9,246.5 53.1,245.2 55.6,243.4 C58.1,241.6 60.3,237.2 61.2,236.0" fill="none" stroke="#101010" stroke-opacity="0.68" stroke-width="5.0" stroke-linecap="round" stroke-linejoin="round"/><path d="M9.3,267.5 C11.8,266.3 19.5,262.6 24.1,260.1 C28.7,257.6 34.9,253.9 37.1,252.7" fill="none" stroke="#101010" stroke-opacity="0.72" stroke-width="6.0" stroke-linecap="round" stroke-linejoin="round"/><path d="M79.7,269.4 C82.5,268.5 91.1,265.4 96.4,263.8 C101.7,262.2 107.4,261.0 111.3,260.1 C115.2,259.2 118.5,258.5 120.0,258.2" fill="none" stroke="#0c0c0c" stroke-opacity="0.72" stroke-width="8.0" stroke-linecap="round" stroke-linejoin="round"/><path d="M63.1,161.8 C65.6,160.9 73.6,157.8 77.9,156.2 C82.2,154.6 87.2,153.1 89.0,152.5" fill="none" stroke="#101010" stroke-opacity="0.68" stroke-width="5.0" stroke-linecap="round" stroke-linejoin="round"/><path d="M0.0,171.0 C1.2,170.7 4.9,170.1 7.4,169.2 C9.9,168.3 13.6,166.1 14.8,165.5" fill="none" stroke="#151515" stroke-opacity="0.59" stroke-width="4.0" stroke-linecap="round" stroke-linejoin="round"/><path d="M120.3,178.5 C123.1,179.3 130.8,182.5 137.0,183.1 C143.2,183.7 150.3,183.6 157.4,182.2 C164.5,180.8 173.4,177.0 179.6,174.8 C185.8,172.6 192.0,170.1 194.5,169.2" fill="none" stroke="#0c0c0c" stroke-opacity="0.72" stroke-width="6.5" stroke-linecap="round" stroke-linejoin="round"/><path d="M150.0,202.6 C152.8,202.0 161.4,200.8 166.7,198.9 C171.9,197.1 176.2,193.4 181.5,191.5 C186.8,189.6 192.3,188.9 198.2,187.7 C204.1,186.4 211.1,186.2 216.7,184.0 C222.3,181.8 227.7,177.3 231.6,174.8 C235.5,172.3 238.9,170.1 240.3,169.2" fill="none" stroke="#0c0c0c" stroke-opacity="0.72" stroke-width="5.5" stroke-linecap="round" stroke-linejoin="round"/><path d="M120.3,267.5 C123.4,266.9 132.6,265.7 138.8,263.8 C145.0,261.9 152.1,259.5 157.4,256.4 C162.7,253.3 166.4,248.6 170.4,245.2 C174.4,241.8 177.5,238.5 181.5,236.0 C185.5,233.5 192.3,231.3 194.5,230.4" fill="none" stroke="#0a0a0a" stroke-opacity="0.77" stroke-width="9.0" stroke-linecap="round" stroke-linejoin="round"/><path d="" fill="none" stroke="#151515" stroke-opacity="0.59" stroke-width="5.0" stroke-linecap="round" stroke-linejoin="round"/><path d="M200.0,282.3 C202.2,282.6 209.0,283.6 213.0,284.2 C217.0,284.8 222.3,285.7 224.2,286.0" fill="none" stroke="#151515" stroke-opacity="0.64" stroke-width="4.0" stroke-linecap="round" stroke-linejoin="round"/><path d="M310.7,200.7 C312.9,199.1 319.4,193.9 323.7,191.4 C328.0,188.9 332.1,188.7 336.7,185.9 C341.3,183.1 347.4,177.9 351.5,174.8 C355.6,171.7 359.7,168.6 361.3,167.3" fill="none" stroke="#0c0c0c" stroke-opacity="0.72" stroke-width="7.0" stroke-linecap="round" stroke-linejoin="round"/><path d="M318.1,148.8 C320.0,150.7 326.1,156.8 329.2,159.9 C332.3,163.0 335.4,166.1 336.7,167.3" fill="none" stroke="#101010" stroke-opacity="0.68" stroke-width="5.0" stroke-linecap="round" stroke-linejoin="round"/><path d="M268.1,222.9 C270.6,225.1 278.3,231.0 282.9,235.9 C287.5,240.8 291.9,247.3 295.9,252.6 C299.9,257.8 303.9,262.5 307.0,267.4 C310.1,272.3 313.2,279.7 314.4,282.2" fill="none" stroke="#151515" stroke-opacity="0.64" stroke-width="4.0" stroke-linecap="round" stroke-linejoin="round"/><path d="M273.7,278.5 C275.9,279.1 282.9,281.0 286.6,282.2 C290.3,283.4 294.3,285.3 295.9,285.9" fill="none" stroke="#151515" stroke-opacity="0.64" stroke-width="4.0" stroke-linecap="round" stroke-linejoin="round"/><path d="M240.3,276.0 C242.2,276.3 248.3,277.0 251.4,278.0 C254.5,279.0 257.6,281.3 258.8,282.0" fill="none" stroke="#151515" stroke-opacity="0.59" stroke-width="4.0" stroke-linecap="round" stroke-linejoin="round"/></g><g transform="rotate(-25 180 149)"><rect x="-130" y="-130" width="620" height="560" filter="url(#relief)" style="mix-blend-mode:overlay" opacity="0.9"/></g><path d="M253.3,159.9 C255.9,157.9 273.1,155.8 277.4,156.2 C281.7,156.6 292.2,162.1 295.9,163.6 C299.6,165.1 312.4,168.8 314.4,171.0 C316.4,173.2 316.6,183.2 316.0,185.9 C315.4,188.6 309.6,195.1 308.0,198.0 C306.4,200.9 301.6,214.4 300.0,215.0 C298.4,215.6 294.5,206.6 292.2,204.4 C289.9,202.2 280.7,194.8 277.4,193.3 C274.1,191.8 261.4,191.3 258.8,189.6 C256.2,187.9 252.0,179.6 251.4,176.6 C250.8,173.6 250.7,161.9 253.3,159.9Z" fill="#8e8e8e" fill-opacity="0.7" filter="url(#dblur)"/><rect x="0" y="0" width="361.0" height="298.0" filter="url(#contours)" opacity="0.35"/></g></defs>
<defs><clipPath id="cpF"><rect x="15.5" y="498.3" width="360.3" height="297.2"/></clipPath><clipPath id="cpG"><rect x="391.7" y="498.2" width="361.4" height="298.2"/></clipPath></defs>
<g clip-path="url(#cpF)"><use href="#terrain" transform="translate(15.5,498.3)"/></g>
<g clip-path="url(#cpG)"><use href="#terrain" transform="translate(391.7,498.2)"/></g>
<defs><clipPath id="cpW"><polygon points="74.0,612.3 77.0,610.0 88.0,604.5 99.0,600.0 106.8,595.2 110.0,590.5 113.0,582.7 117.7,576.5 127.0,571.8 138.0,569.5 150.4,567.1 161.3,561.7 169.0,559.0 180.0,558.6 220.0,559.5 221.0,561.8 244.8,561.8 246.8,568.2 250.2,568.6 255.4,572.5 260.0,578.6 263.5,580.5 268.2,583.6 270.5,588.3 272.9,594.5 277.5,602.3 279.9,608.6 281.4,618.0 279.0,624.0 277.5,633.5 276.0,640.0 274.7,646.9 271.3,660.4 266.2,672.2 261.2,684.0 254.4,692.5 249.4,696.7 244.3,707.7 240.9,712.7 220.6,713.6 207.1,714.4 203.8,724.5 195.3,729.6 192.2,729.6 181.8,728.3 161.0,725.7 149.4,724.4 135.0,715.3 124.7,712.7 122.0,710.0 109.0,705.0 96.1,692.0 88.3,679.0 85.7,666.0 81.0,650.0 78.7,643.5 74.8,628.0"/></clipPath></defs>
<g clip-path="url(#cpF)">
<polygon points="74.0,612.3 77.0,610.0 88.0,604.5 99.0,600.0 106.8,595.2 110.0,590.5 113.0,582.7 117.7,576.5 127.0,571.8 138.0,569.5 150.4,567.1 161.3,561.7 169.0,559.0 180.0,558.6 220.0,559.5 221.0,561.8 244.8,561.8 246.8,568.2 250.2,568.6 255.4,572.5 260.0,578.6 263.5,580.5 268.2,583.6 270.5,588.3 272.9,594.5 277.5,602.3 279.9,608.6 281.4,618.0 279.0,624.0 277.5,633.5 276.0,640.0 274.7,646.9 271.3,660.4 266.2,672.2 261.2,684.0 254.4,692.5 249.4,696.7 244.3,707.7 240.9,712.7 220.6,713.6 207.1,714.4 203.8,724.5 195.3,729.6 192.2,729.6 181.8,728.3 161.0,725.7 149.4,724.4 135.0,715.3 124.7,712.7 122.0,710.0 109.0,705.0 96.1,692.0 88.3,679.0 85.7,666.0 81.0,650.0 78.7,643.5 74.8,628.0" fill="#f7f7f7"/>
<g clip-path="url(#cpW)"><rect transform="translate(15.5,498.3)" x="0" y="0" width="361.0" height="298.0" filter="url(#contours)" opacity="0.45"/></g>
<path d="M131.7,582.7 C135.2,580.2 146.4,581.4 153.5,581.2 C160.6,581.0 178.0,580.8 184.7,581.2 C191.4,581.6 198.8,582.2 203.4,584.3 C208.0,586.4 216.1,593.5 219.0,596.8 C221.9,600.1 224.5,605.9 225.2,609.2 C225.9,612.5 223.9,618.3 224.0,621.7 C224.1,625.1 225.4,632.1 226.0,635.0 C226.6,637.9 230.9,639.9 228.3,643.5 C225.7,647.1 211.5,658.9 206.5,662.2 C201.5,665.5 195.9,667.2 190.9,668.5 C185.9,669.8 174.5,671.6 169.1,671.6 C163.7,671.6 155.0,670.2 150.4,668.5 C145.8,666.8 137.9,662.4 134.8,659.1 C131.7,655.8 128.2,648.5 127.0,643.5 C125.8,638.5 125.5,627.5 125.5,621.7 C125.5,615.9 126.2,605.1 127.0,599.9 C127.8,594.7 128.2,585.2 131.7,582.7Z" fill="#f6d998" fill-opacity="0.62"/>
<path d="M184.7,628.0 C186.3,627.2 199.7,631.4 203.4,632.6 C207.1,633.8 219.2,639.0 222.0,640.4 C224.8,641.8 230.5,645.2 231.4,646.6 C232.3,648.0 232.6,653.5 231.4,654.4 C230.2,655.3 221.5,656.0 219.0,656.0 C216.5,656.0 208.7,654.1 206.5,654.4 C204.3,654.7 198.9,658.1 197.0,659.0 C195.1,659.9 189.3,663.9 187.8,663.8 C186.3,663.6 182.1,659.2 181.6,657.5 C181.1,655.8 182.5,648.3 183.1,646.6 C183.7,644.9 187.6,642.3 187.8,640.4 C188.0,638.5 183.1,628.8 184.7,628.0Z" fill="#f1c677" fill-opacity="0.9"/>
<path d="M197.9,634.1h1.2M213.9,631.5h1.2M208.3,641.4h1.2M184.8,646.3h1.2M183.8,643.7h1.2M185.4,632.1h1.2M202.8,657.1h1.2M188.1,636.6h1.2M212.7,661.2h1.2M210.3,642.5h1.2M229.8,630.6h1.2M224.1,638.8h1.2M189.1,633.0h1.2M197.1,656.7h1.2M190.9,648.8h1.2M213.3,641.7h1.2M208.8,631.1h1.2M184.9,636.0h1.2M215.3,643.5h1.2M197.4,648.9h1.2M204.2,639.2h1.2M220.9,652.8h1.2M194.0,648.5h1.2M207.7,658.8h1.2M217.7,638.8h1.2M230.0,633.0h1.2M202.5,654.7h1.2M189.4,645.6h1.2M183.9,651.7h1.2M219.5,648.5h1.2M224.9,639.7h1.2M216.1,649.2h1.2M210.4,644.5h1.2M223.2,661.1h1.2M205.2,651.6h1.2M185.0,652.9h1.2M213.7,662.8h1.2M222.3,638.7h1.2M200.9,651.7h1.2M183.1,644.7h1.2M190.2,633.0h1.2M184.9,655.1h1.2M188.3,637.4h1.2M201.2,658.6h1.2M185.9,644.3h1.2M208.9,659.0h1.2M222.1,658.4h1.2M195.6,643.1h1.2M199.6,659.1h1.2M228.9,634.1h1.2M190.6,636.9h1.2M193.4,645.5h1.2M210.9,637.9h1.2M182.2,643.2h1.2M200.1,648.3h1.2M228.7,652.5h1.2M207.3,650.0h1.2M215.1,630.8h1.2M226.1,655.5h1.2M224.9,656.1h1.2M201.2,642.6h1.2M187.1,650.6h1.2M185.1,631.3h1.2M192.2,634.5h1.2M198.7,630.8h1.2M182.0,634.1h1.2M187.0,641.4h1.2M183.2,658.7h1.2M212.1,634.1h1.2M194.4,640.8h1.2" stroke="#3a3020" stroke-width="1" fill="none" clip-path="url(#cpW)"/>
<polygon points="173.4,711.0 178.4,712.7 195.3,714.4 203.8,711.0 207.1,704.3 213.9,699.2 224.0,694.2 227.4,690.8 212.2,690.8 195.3,692.5 185.0,695.0 176.0,702.0" fill="#d6e66e"/>
<g fill="none" stroke="#4a90d9" stroke-width="0.9" stroke-linejoin="round">
<path d="M272.7,499.0 C273.2,502.2 275.9,511.2 275.5,518.0 C275.1,524.8 271.4,532.7 270.0,540.0 C268.6,547.3 267.5,554.5 267.3,561.8 C267.1,569.1 268.2,577.2 268.6,583.6 C269.1,590.0 269.3,595.4 270.0,600.0 C270.7,604.6 269.5,608.7 272.7,611.0 C275.9,613.3 283.1,612.7 289.0,613.6 C294.9,614.5 302.5,614.1 308.0,616.4 C313.5,618.7 317.5,624.0 321.8,627.3 C326.1,630.6 329.3,633.0 334.0,636.0 C338.7,639.0 343.0,642.3 350.0,645.0 C357.0,647.7 371.7,650.8 376.0,652.0"/>
<path d="M214.0,499.0 C213.2,501.7 210.9,509.2 209.0,515.0 C207.1,520.8 204.8,529.2 202.5,533.5 C200.2,537.8 197.8,538.8 195.0,541.0 C192.2,543.2 187.5,546.0 186.0,547.0"/>
<path d="M224.0,512.0 C223.7,515.0 222.5,524.0 222.0,530.0 C221.5,536.0 221.2,542.0 221.0,548.0 C220.8,554.0 220.6,563.0 220.5,566.0"/>
<path d="M221.0,567.0 C221.8,568.3 222.8,573.2 226.0,575.0 C229.2,576.8 236.3,577.8 240.0,578.0 C243.7,578.2 246.7,576.3 248.0,576.0"/>
<path d="M110.0,590.0 C111.3,591.7 115.2,597.3 118.0,600.0 C120.8,602.7 123.3,604.3 127.0,606.0 C130.7,607.7 137.8,609.3 140.0,610.0"/>
<path d="M105.0,625.0 C107.0,625.5 113.2,626.8 117.0,628.0 C120.8,629.2 126.2,631.3 128.0,632.0"/>
<path d="M142.0,585.0 C142.7,587.2 144.7,594.3 146.0,598.0 C147.3,601.7 149.3,605.5 150.0,607.0"/>
<path d="M185.0,580.0 C185.5,581.7 187.2,586.7 188.0,590.0 C188.8,593.3 189.7,598.3 190.0,600.0"/>
<path d="M200.0,585.0 C199.7,586.7 198.7,592.0 198.0,595.0 C197.3,598.0 196.3,601.7 196.0,603.0"/>
<path d="M150.0,660.0 C149.0,662.0 147.0,668.0 144.0,672.0 C141.0,676.0 136.3,680.7 132.0,684.0 C127.7,687.3 123.3,689.3 118.0,692.0 C112.7,694.7 103.0,698.7 100.0,700.0"/>
<path d="M125.0,700.0 C127.5,700.3 134.2,702.0 140.0,702.0 C145.8,702.0 153.7,701.0 160.0,700.0 C166.3,699.0 175.0,696.7 178.0,696.0"/>
<path d="M204.0,663.0 C204.3,665.2 205.5,671.5 206.0,676.0 C206.5,680.5 206.8,687.7 207.0,690.0"/>
<path d="M226.0,660.0 C227.2,662.0 231.0,667.7 233.0,672.0 C235.0,676.3 236.8,682.2 238.0,686.0 C239.2,689.8 239.7,693.5 240.0,695.0"/>
<path d="M209.0,693.0 C212.5,692.8 221.5,692.2 230.0,692.0 C238.5,691.8 248.3,692.0 260.0,692.0 C271.7,692.0 288.3,692.3 300.0,692.0 C311.7,691.7 320.0,689.3 330.0,690.0 C340.0,690.7 352.3,693.3 360.0,696.0 C367.7,698.7 373.3,704.3 376.0,706.0"/>
<path d="M124.0,712.0 C126.7,712.7 134.0,715.3 140.0,716.0 C146.0,716.7 154.2,715.3 160.0,716.0 C165.8,716.7 168.3,720.0 175.0,720.0 C181.7,720.0 191.7,716.8 200.0,716.0 C208.3,715.2 215.8,714.3 225.0,715.0 C234.2,715.7 246.7,715.8 255.0,720.0 C263.3,724.2 270.0,732.5 275.0,740.0 C280.0,747.5 282.5,755.8 285.0,765.0 C287.5,774.2 289.2,790.0 290.0,795.0"/>
<path d="M96.0,692.0 C94.0,693.3 88.3,696.7 84.0,700.0 C79.7,703.3 74.8,708.3 70.0,712.0 C65.2,715.7 60.8,718.2 55.0,722.0 C49.2,725.8 41.7,731.2 35.0,735.0 C28.3,738.8 18.3,743.3 15.0,745.0"/>
<path d="M208.0,580.0 C208.8,581.7 211.7,586.7 213.0,590.0 C214.3,593.3 215.5,598.3 216.0,600.0"/>
<path d="M164.0,610.0 C165.0,610.7 168.0,612.7 170.0,614.0 C172.0,615.3 175.0,617.3 176.0,618.0"/>
</g>
<path d="M172.9,640.5C174,634 176,628 179.9,623.4C182,620 186,616.5 191,615.6" fill="none" stroke="#e03020" stroke-width="2"/>
<path d="M174,636C177,632 181,630 184,631" fill="none" stroke="#e03020" stroke-width="1.6"/>
<g fill="none" stroke="#111" stroke-width="1.6" stroke-linejoin="round">
<polyline points="74.0,612.3 77.0,610.0 88.0,604.5 99.0,600.0 106.8,595.2 110.0,590.5 113.0,582.7 117.7,576.5 127.0,571.8 138.0,569.5 150.4,567.1 161.3,561.7 169.0,559.0 180.0,558.6 200.0,558.2 217.0,558.8"/>
<polyline points="74.0,612.3 74.8,628.0 78.7,643.5 81.0,650.0 85.0,660.0"/>
<polyline points="244.8,567.8 250.2,568.6 255.4,572.5 260.0,578.6 263.5,580.5 268.2,583.6 270.5,588.3 272.9,594.5 277.5,602.3 279.9,608.6 281.4,618.0 280.5,624.0"/>
<polyline points="149.4,724.4 161.0,725.7 181.8,728.3 192.2,729.6"/>
</g>
<polyline points="220.3,567.0 219.9,586.8 216.8,602.3 212.0,613.2 209.7,627.3 208.5,640.0 205.5,663.8 202.0,685.7 197.0,706.0 193.6,719.5 190.3,729.6 181.8,749.0 171.4,772.5" fill="none" stroke="#d9261c" stroke-width="2.6" stroke-linejoin="round"/>
<path d="M217,498.5L217.4,508M220.2,529L220.6,538M220.8,541L221.2,549M221.3,551.5L221.5,557" fill="none" stroke="#d9261c" stroke-width="2.4"/>
<path d="M211.3,531L211.3,556.4" stroke="#d9261c" stroke-width="2.6"/><path d="M212.6,528L212.6,541L205.6,540Z" fill="#d9261c"/>
<path d="M228,528.5L228,553" stroke="#d9261c" stroke-width="2.6"/><path d="M226.7,557L226.7,543L233.5,544Z" fill="#d9261c"/>
<text x="210" y="528" font-size="22" fill="#fff" stroke="#333" stroke-width="1.6" stroke-opacity="0.35" paint-order="stroke">Outlet glacier</text>
<text transform="translate(95.5,552) rotate(-12.7)" font-size="18.3" font-weight="bold" fill="#111" stroke="#111" stroke-width="0.7">VMG</text>
<text transform="translate(97.5,573.5) rotate(-14.2)" font-size="16.8" font-weight="bold" fill="#111" stroke="#111" stroke-width="0.7">Caldera Rim</text>
<text x="131.7" y="599" font-size="18" fill="#111">Collapsed</text>
<text x="133.5" y="616" font-size="18" fill="#111">Cone</text>
<text x="226.8" y="642.3" font-size="17.6" fill="#111">QRa</text>
<text x="169.5" y="711.2" font-size="18" fill="#111">Qal</text>
<text transform="translate(239.8,605.4) rotate(-82)" font-size="17.2" fill="#111">LOFZ</text>
<text transform="translate(287,657) rotate(41.5)" font-size="18" font-weight="bold" fill="#fff" stroke="#333" stroke-width="0.8" stroke-opacity="0.6" paint-order="stroke" textLength="104" lengthAdjust="spacingAndGlyphs">Outlet glacier</text>
<text transform="translate(27,764) rotate(-47.4)" font-size="16.5" font-weight="bold" fill="#fff" stroke="#333" stroke-width="0.8" stroke-opacity="0.6" paint-order="stroke" textLength="93" lengthAdjust="spacingAndGlyphs">Outlet glacier</text>
<rect x="367.3" y="618.2" width="9" height="1.5" fill="#fff"/><rect x="279.3" y="785.5" width="3.2" height="10.5" fill="#fff"/>
<text transform="translate(323.36,620.36) scale(1.133,1)" font-size="14.08" font-weight="bold" font-style="normal" fill="#111" stroke="#fff" stroke-width="1.6" stroke-opacity="0.5" paint-order="stroke">45°36'</text>
<text transform="translate(323.05,634.87) scale(1.166,1)" font-size="13.38" font-weight="bold" font-style="normal" fill="#111" stroke="#fff" stroke-width="1.6" stroke-opacity="0.5" paint-order="stroke">25''S</text>
<text transform="translate(260.26,768.47) scale(1.256,1)" font-size="12.82" font-weight="bold" font-style="normal" fill="#111" stroke="#fff" stroke-width="1.6" stroke-opacity="0.5" paint-order="stroke">73°05'</text>
<text transform="translate(260.67,783.06) scale(1.133,1)" font-size="13.52" font-weight="bold" font-style="normal" fill="#111" stroke="#fff" stroke-width="1.6" stroke-opacity="0.5" paint-order="stroke">40''W</text>
</g>
<rect x="16.2" y="499.1" width="15.9" height="28.9" fill="#fff"/><path d="M24.5,509.2L30.4,526.4L24.5,522.9L18.3,526.4Z" fill="#111"/><text x="24.4" y="505.7" font-size="6" fill="#777" text-anchor="middle">N</text>
<text transform="translate(42.65,519.75) scale(0.842,1)" font-size="18.82" font-weight="normal" font-style="normal" fill="#231f20" >(F)</text>
<rect x="17.0" y="775.3" width="176.0" height="20" fill="#fff"/><rect x="21.3" y="787.1" width="138.2" height="4.4" fill="#fff" stroke="#111" stroke-width="0.8"/><rect x="21.3" y="787.1" width="8.6" height="4.4" fill="#111"/><rect x="38.6" y="787.1" width="8.6" height="4.4" fill="#111"/><rect x="55.8" y="787.1" width="34.5" height="4.4" fill="#111"/><rect x="124.9" y="787.1" width="34.5" height="4.4" fill="#111"/><text x="21.3" y="785.5" font-size="10.5" text-anchor="middle" fill="#111">0</text><text x="38.6" y="785.5" font-size="10.5" text-anchor="middle" fill="#111">0.5</text><text x="55.8" y="785.5" font-size="10.5" text-anchor="middle" fill="#111">1</text><text x="90.4" y="785.5" font-size="10.5" text-anchor="middle" fill="#111">2</text><text x="124.9" y="785.5" font-size="10.5" text-anchor="middle" fill="#111">3</text><text x="159.5" y="785.5" font-size="10.5" text-anchor="middle" fill="#111">4</text><text x="170.0" y="792.1" font-size="17" fill="#111">km</text>
<rect x="15.5" y="498.3" width="360.3" height="297.2" fill="none" stroke="#333" stroke-width="1"/>
<rect x="392.5" y="499.3" width="15.9" height="28.9" fill="#fff"/><path d="M400.8,509.4L406.7,526.6L400.8,523.1L394.6,526.6Z" fill="#111"/><text x="400.7" y="505.9" font-size="6" fill="#777" text-anchor="middle">N</text>
<text transform="translate(418.52,519.75) scale(0.865,1)" font-size="18.82" font-weight="normal" font-style="normal" fill="#231f20" >(G)</text>
<text transform="translate(629.47,637.29) rotate(-75.19) scale(1.157,1)" font-size="22.29" font-weight="normal" font-style="normal" fill="#e04a45" >LOFZ scarp</text>
<path d="M601.5,592.0L621.5,587.8L615.9,592.0L621.5,596.2Z" fill="#111" stroke="#fff" stroke-width="0.8"/>
<path d="M587.0,668.3L609.5,662.3L603.2,668.3L609.5,674.3Z" fill="#111" stroke="#fff" stroke-width="0.8"/>
<path d="M572.5,728.0L595.5,722.8L589.1,728.0L595.5,733.2Z" fill="#111" stroke="#fff" stroke-width="0.8"/>
<rect x="393.7" y="774.6" width="181.0" height="20" fill="#fff"/><rect x="398.0" y="786.4" width="138.2" height="4.4" fill="#fff" stroke="#111" stroke-width="0.8"/><rect x="398.0" y="786.4" width="8.6" height="4.4" fill="#111"/><rect x="415.3" y="786.4" width="8.6" height="4.4" fill="#111"/><rect x="432.6" y="786.4" width="34.5" height="4.4" fill="#111"/><rect x="501.6" y="786.4" width="34.5" height="4.4" fill="#111"/><text x="398.0" y="784.8" font-size="10.5" text-anchor="middle" fill="#111">0</text><text x="415.3" y="784.8" font-size="10.5" text-anchor="middle" fill="#111">0.5</text><text x="432.6" y="784.8" font-size="10.5" text-anchor="middle" fill="#111">1</text><text x="467.1" y="784.8" font-size="10.5" text-anchor="middle" fill="#111">2</text><text x="501.6" y="784.8" font-size="10.5" text-anchor="middle" fill="#111">3</text><text x="536.2" y="784.8" font-size="10.5" text-anchor="middle" fill="#111">4</text><text x="546.0" y="791.4" font-size="17" fill="#111">km</text>
<rect x="391.7" y="498.2" width="361.4" height="298.2" fill="none" stroke="#333" stroke-width="1"/>
</svg></body></html>
